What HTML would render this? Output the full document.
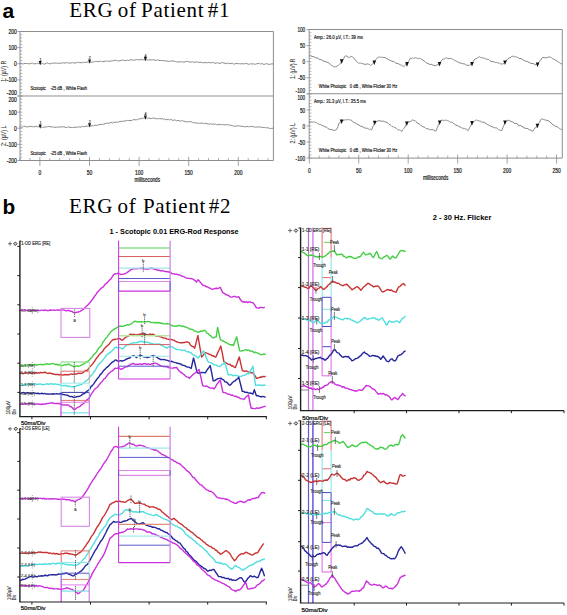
<!DOCTYPE html>
<html><head><meta charset="utf-8"><title>ERG figure</title>
<style>html,body{margin:0;padding:0;background:#fff;} svg{display:block;}</style></head>
<body><svg width="567" height="615" viewBox="0 0 567 615">
<rect x="0" y="0" width="567" height="615" fill="#fff"/>
<text x="2.6" y="17.5" font-family="Liberation Sans, sans-serif" font-size="21" font-weight="bold" text-anchor="start" fill="#000" >a</text>
<text x="69.2" y="16.9" font-family="Liberation Serif, serif" font-size="21" font-weight="normal" text-anchor="start" fill="#000" letter-spacing="0.7">ERG</text>
<text x="117.8" y="16.9" font-family="Liberation Serif, serif" font-size="21" font-weight="normal" text-anchor="start" fill="#000" letter-spacing="0.7">of</text>
<text x="141" y="16.9" font-family="Liberation Serif, serif" font-size="21" font-weight="normal" text-anchor="start" fill="#000" letter-spacing="0.7">Patient</text>
<text x="207.7" y="16.9" font-family="Liberation Serif, serif" font-size="21" font-weight="normal" text-anchor="start" fill="#000" letter-spacing="0.7">#1</text>
<line x1="20" y1="31.5" x2="273.4" y2="31.5" stroke="#8e8e8e" stroke-width="1" />
<line x1="273.4" y1="31.5" x2="273.4" y2="160.5" stroke="#8e8e8e" stroke-width="1" />
<line x1="20" y1="96" x2="273.4" y2="96" stroke="#8e8e8e" stroke-width="1.1" />
<line x1="20" y1="31.5" x2="20" y2="160.5" stroke="#8e8e8e" stroke-width="1" />
<line x1="20" y1="160.5" x2="273.4" y2="160.5" stroke="#8e8e8e" stroke-width="1" />
<line x1="20" y1="31.5" x2="22.2" y2="31.5" stroke="#8e8e8e" stroke-width="0.7" />
<line x1="20" y1="34.73" x2="22.2" y2="34.73" stroke="#8e8e8e" stroke-width="0.7" />
<line x1="20" y1="37.95" x2="22.2" y2="37.95" stroke="#8e8e8e" stroke-width="0.7" />
<line x1="20" y1="41.17" x2="22.2" y2="41.17" stroke="#8e8e8e" stroke-width="0.7" />
<line x1="20" y1="44.4" x2="22.2" y2="44.4" stroke="#8e8e8e" stroke-width="0.7" />
<line x1="20" y1="47.62" x2="22.2" y2="47.62" stroke="#8e8e8e" stroke-width="0.7" />
<line x1="20" y1="50.85" x2="22.2" y2="50.85" stroke="#8e8e8e" stroke-width="0.7" />
<line x1="20" y1="54.08" x2="22.2" y2="54.08" stroke="#8e8e8e" stroke-width="0.7" />
<line x1="20" y1="57.3" x2="22.2" y2="57.3" stroke="#8e8e8e" stroke-width="0.7" />
<line x1="20" y1="60.52" x2="22.2" y2="60.52" stroke="#8e8e8e" stroke-width="0.7" />
<line x1="20" y1="63.75" x2="22.2" y2="63.75" stroke="#8e8e8e" stroke-width="0.7" />
<line x1="20" y1="66.97" x2="22.2" y2="66.97" stroke="#8e8e8e" stroke-width="0.7" />
<line x1="20" y1="70.2" x2="22.2" y2="70.2" stroke="#8e8e8e" stroke-width="0.7" />
<line x1="20" y1="73.42" x2="22.2" y2="73.42" stroke="#8e8e8e" stroke-width="0.7" />
<line x1="20" y1="76.65" x2="22.2" y2="76.65" stroke="#8e8e8e" stroke-width="0.7" />
<line x1="20" y1="79.88" x2="22.2" y2="79.88" stroke="#8e8e8e" stroke-width="0.7" />
<line x1="20" y1="83.1" x2="22.2" y2="83.1" stroke="#8e8e8e" stroke-width="0.7" />
<line x1="20" y1="86.33" x2="22.2" y2="86.33" stroke="#8e8e8e" stroke-width="0.7" />
<line x1="20" y1="89.55" x2="22.2" y2="89.55" stroke="#8e8e8e" stroke-width="0.7" />
<line x1="20" y1="92.78" x2="22.2" y2="92.78" stroke="#8e8e8e" stroke-width="0.7" />
<line x1="20" y1="96" x2="22.2" y2="96" stroke="#8e8e8e" stroke-width="0.7" />
<line x1="17.4" y1="31.5" x2="20" y2="31.5" stroke="#8e8e8e" stroke-width="0.8" />
<line x1="17.4" y1="47.62" x2="20" y2="47.62" stroke="#8e8e8e" stroke-width="0.8" />
<line x1="17.4" y1="63.75" x2="20" y2="63.75" stroke="#8e8e8e" stroke-width="0.8" />
<line x1="17.4" y1="79.88" x2="20" y2="79.88" stroke="#8e8e8e" stroke-width="0.8" />
<line x1="17.4" y1="96" x2="20" y2="96" stroke="#8e8e8e" stroke-width="0.8" />
<line x1="20" y1="96" x2="22.2" y2="96" stroke="#8e8e8e" stroke-width="0.7" />
<line x1="20" y1="99.22" x2="22.2" y2="99.22" stroke="#8e8e8e" stroke-width="0.7" />
<line x1="20" y1="102.45" x2="22.2" y2="102.45" stroke="#8e8e8e" stroke-width="0.7" />
<line x1="20" y1="105.67" x2="22.2" y2="105.67" stroke="#8e8e8e" stroke-width="0.7" />
<line x1="20" y1="108.9" x2="22.2" y2="108.9" stroke="#8e8e8e" stroke-width="0.7" />
<line x1="20" y1="112.12" x2="22.2" y2="112.12" stroke="#8e8e8e" stroke-width="0.7" />
<line x1="20" y1="115.35" x2="22.2" y2="115.35" stroke="#8e8e8e" stroke-width="0.7" />
<line x1="20" y1="118.58" x2="22.2" y2="118.58" stroke="#8e8e8e" stroke-width="0.7" />
<line x1="20" y1="121.8" x2="22.2" y2="121.8" stroke="#8e8e8e" stroke-width="0.7" />
<line x1="20" y1="125.03" x2="22.2" y2="125.03" stroke="#8e8e8e" stroke-width="0.7" />
<line x1="20" y1="128.25" x2="22.2" y2="128.25" stroke="#8e8e8e" stroke-width="0.7" />
<line x1="20" y1="131.47" x2="22.2" y2="131.47" stroke="#8e8e8e" stroke-width="0.7" />
<line x1="20" y1="134.7" x2="22.2" y2="134.7" stroke="#8e8e8e" stroke-width="0.7" />
<line x1="20" y1="137.93" x2="22.2" y2="137.93" stroke="#8e8e8e" stroke-width="0.7" />
<line x1="20" y1="141.15" x2="22.2" y2="141.15" stroke="#8e8e8e" stroke-width="0.7" />
<line x1="20" y1="144.38" x2="22.2" y2="144.38" stroke="#8e8e8e" stroke-width="0.7" />
<line x1="20" y1="147.6" x2="22.2" y2="147.6" stroke="#8e8e8e" stroke-width="0.7" />
<line x1="20" y1="150.82" x2="22.2" y2="150.82" stroke="#8e8e8e" stroke-width="0.7" />
<line x1="20" y1="154.05" x2="22.2" y2="154.05" stroke="#8e8e8e" stroke-width="0.7" />
<line x1="20" y1="157.28" x2="22.2" y2="157.28" stroke="#8e8e8e" stroke-width="0.7" />
<line x1="20" y1="160.5" x2="22.2" y2="160.5" stroke="#8e8e8e" stroke-width="0.7" />
<line x1="17.4" y1="96" x2="20" y2="96" stroke="#8e8e8e" stroke-width="0.8" />
<line x1="17.4" y1="112.12" x2="20" y2="112.12" stroke="#8e8e8e" stroke-width="0.8" />
<line x1="17.4" y1="128.25" x2="20" y2="128.25" stroke="#8e8e8e" stroke-width="0.8" />
<line x1="17.4" y1="144.38" x2="20" y2="144.38" stroke="#8e8e8e" stroke-width="0.8" />
<line x1="17.4" y1="160.5" x2="20" y2="160.5" stroke="#8e8e8e" stroke-width="0.8" />
<text x="16.9" y="33.6" font-family="Liberation Sans, sans-serif" font-size="6.9" font-weight="normal" text-anchor="end" fill="#1a1a1a" stroke="#1a1a1a" stroke-width="0.22" textLength="8.4" lengthAdjust="spacingAndGlyphs" >200</text>
<text x="16.9" y="49.9" font-family="Liberation Sans, sans-serif" font-size="6.9" font-weight="normal" text-anchor="end" fill="#1a1a1a" stroke="#1a1a1a" stroke-width="0.22" textLength="8.4" lengthAdjust="spacingAndGlyphs" >100</text>
<text x="16.9" y="66.1" font-family="Liberation Sans, sans-serif" font-size="6.9" font-weight="normal" text-anchor="end" fill="#1a1a1a" stroke="#1a1a1a" stroke-width="0.22" textLength="2.8" lengthAdjust="spacingAndGlyphs" >0</text>
<text x="16.9" y="82.3" font-family="Liberation Sans, sans-serif" font-size="6.9" font-weight="normal" text-anchor="end" fill="#1a1a1a" stroke="#1a1a1a" stroke-width="0.22" textLength="10.2" lengthAdjust="spacingAndGlyphs" >-100</text>
<text x="16.9" y="94.8" font-family="Liberation Sans, sans-serif" font-size="6.9" font-weight="normal" text-anchor="end" fill="#1a1a1a" stroke="#1a1a1a" stroke-width="0.22" textLength="10.2" lengthAdjust="spacingAndGlyphs" >-200</text>
<text x="16.9" y="102.4" font-family="Liberation Sans, sans-serif" font-size="6.9" font-weight="normal" text-anchor="end" fill="#1a1a1a" stroke="#1a1a1a" stroke-width="0.22" textLength="8.4" lengthAdjust="spacingAndGlyphs" >200</text>
<text x="16.9" y="114.6" font-family="Liberation Sans, sans-serif" font-size="6.9" font-weight="normal" text-anchor="end" fill="#1a1a1a" stroke="#1a1a1a" stroke-width="0.22" textLength="8.4" lengthAdjust="spacingAndGlyphs" >100</text>
<text x="16.9" y="130.7" font-family="Liberation Sans, sans-serif" font-size="6.9" font-weight="normal" text-anchor="end" fill="#1a1a1a" stroke="#1a1a1a" stroke-width="0.22" textLength="2.8" lengthAdjust="spacingAndGlyphs" >0</text>
<text x="16.9" y="146.7" font-family="Liberation Sans, sans-serif" font-size="6.9" font-weight="normal" text-anchor="end" fill="#1a1a1a" stroke="#1a1a1a" stroke-width="0.22" textLength="10.2" lengthAdjust="spacingAndGlyphs" >-100</text>
<text x="16.9" y="162.6" font-family="Liberation Sans, sans-serif" font-size="6.9" font-weight="normal" text-anchor="end" fill="#1a1a1a" stroke="#1a1a1a" stroke-width="0.22" textLength="10.2" lengthAdjust="spacingAndGlyphs" >-200</text>
<line x1="20.06" y1="157.9" x2="20.06" y2="160.5" stroke="#8e8e8e" stroke-width="0.7" />
<line x1="29.98" y1="157.9" x2="29.98" y2="160.5" stroke="#8e8e8e" stroke-width="0.7" />
<line x1="39.9" y1="156.9" x2="39.9" y2="166" stroke="#8e8e8e" stroke-width="0.8" />
<line x1="49.82" y1="157.9" x2="49.82" y2="160.5" stroke="#8e8e8e" stroke-width="0.7" />
<line x1="59.74" y1="157.9" x2="59.74" y2="160.5" stroke="#8e8e8e" stroke-width="0.7" />
<line x1="69.66" y1="157.9" x2="69.66" y2="160.5" stroke="#8e8e8e" stroke-width="0.7" />
<line x1="79.58" y1="157.9" x2="79.58" y2="160.5" stroke="#8e8e8e" stroke-width="0.7" />
<line x1="89.5" y1="156.9" x2="89.5" y2="166" stroke="#8e8e8e" stroke-width="0.8" />
<line x1="99.42" y1="157.9" x2="99.42" y2="160.5" stroke="#8e8e8e" stroke-width="0.7" />
<line x1="109.34" y1="157.9" x2="109.34" y2="160.5" stroke="#8e8e8e" stroke-width="0.7" />
<line x1="119.26" y1="157.9" x2="119.26" y2="160.5" stroke="#8e8e8e" stroke-width="0.7" />
<line x1="129.18" y1="157.9" x2="129.18" y2="160.5" stroke="#8e8e8e" stroke-width="0.7" />
<line x1="139.1" y1="156.9" x2="139.1" y2="166" stroke="#8e8e8e" stroke-width="0.8" />
<line x1="149.02" y1="157.9" x2="149.02" y2="160.5" stroke="#8e8e8e" stroke-width="0.7" />
<line x1="158.94" y1="157.9" x2="158.94" y2="160.5" stroke="#8e8e8e" stroke-width="0.7" />
<line x1="168.86" y1="157.9" x2="168.86" y2="160.5" stroke="#8e8e8e" stroke-width="0.7" />
<line x1="178.78" y1="157.9" x2="178.78" y2="160.5" stroke="#8e8e8e" stroke-width="0.7" />
<line x1="188.7" y1="156.9" x2="188.7" y2="166" stroke="#8e8e8e" stroke-width="0.8" />
<line x1="198.62" y1="157.9" x2="198.62" y2="160.5" stroke="#8e8e8e" stroke-width="0.7" />
<line x1="208.54" y1="157.9" x2="208.54" y2="160.5" stroke="#8e8e8e" stroke-width="0.7" />
<line x1="218.46" y1="157.9" x2="218.46" y2="160.5" stroke="#8e8e8e" stroke-width="0.7" />
<line x1="228.38" y1="157.9" x2="228.38" y2="160.5" stroke="#8e8e8e" stroke-width="0.7" />
<line x1="238.3" y1="156.9" x2="238.3" y2="166" stroke="#8e8e8e" stroke-width="0.8" />
<line x1="248.22" y1="157.9" x2="248.22" y2="160.5" stroke="#8e8e8e" stroke-width="0.7" />
<line x1="258.14" y1="157.9" x2="258.14" y2="160.5" stroke="#8e8e8e" stroke-width="0.7" />
<line x1="268.06" y1="157.9" x2="268.06" y2="160.5" stroke="#8e8e8e" stroke-width="0.7" />
<text x="39.9" y="174.5" font-family="Liberation Sans, sans-serif" font-size="6.8" font-weight="normal" text-anchor="middle" fill="#1a1a1a" stroke="#1a1a1a" stroke-width="0.22" textLength="2.75" lengthAdjust="spacingAndGlyphs" >0</text>
<text x="89.5" y="174.5" font-family="Liberation Sans, sans-serif" font-size="6.8" font-weight="normal" text-anchor="middle" fill="#1a1a1a" stroke="#1a1a1a" stroke-width="0.22" textLength="5.5" lengthAdjust="spacingAndGlyphs" >50</text>
<text x="139.1" y="174.5" font-family="Liberation Sans, sans-serif" font-size="6.8" font-weight="normal" text-anchor="middle" fill="#1a1a1a" stroke="#1a1a1a" stroke-width="0.22" textLength="8.25" lengthAdjust="spacingAndGlyphs" >100</text>
<text x="188.7" y="174.5" font-family="Liberation Sans, sans-serif" font-size="6.8" font-weight="normal" text-anchor="middle" fill="#1a1a1a" stroke="#1a1a1a" stroke-width="0.22" textLength="8.25" lengthAdjust="spacingAndGlyphs" >150</text>
<text x="238.3" y="174.5" font-family="Liberation Sans, sans-serif" font-size="6.8" font-weight="normal" text-anchor="middle" fill="#1a1a1a" stroke="#1a1a1a" stroke-width="0.22" textLength="8.25" lengthAdjust="spacingAndGlyphs" >200</text>
<text x="147.3" y="181.7" font-family="Liberation Sans, sans-serif" font-size="6.3" font-weight="normal" text-anchor="middle" fill="#1a1a1a" stroke="#1a1a1a" stroke-width="0.22" textLength="25.4" lengthAdjust="spacingAndGlyphs" >milliseconds</text>
<text transform="translate(6.2,81.8) rotate(-90)" font-family="Liberation Sans, sans-serif" font-size="6.6" text-anchor="start" fill="#3a3a3a" stroke="#3a3a3a" stroke-width="0.12" textLength="21" lengthAdjust="spacingAndGlyphs">1: (µV) R</text>
<text transform="translate(6.2,146) rotate(-90)" font-family="Liberation Sans, sans-serif" font-size="6.6" text-anchor="start" fill="#3a3a3a" stroke="#3a3a3a" stroke-width="0.12" textLength="20.5" lengthAdjust="spacingAndGlyphs">2: (µV) L</text>
<text x="30.4" y="90" font-family="Liberation Sans, sans-serif" font-size="6.1" font-weight="normal" text-anchor="start" fill="#1a1a1a" stroke="#1a1a1a" stroke-width="0.21" textLength="56.6" lengthAdjust="spacingAndGlyphs" >Scotopic &#160;&#160; -25 dB , White Flash</text>
<text x="30.4" y="154.9" font-family="Liberation Sans, sans-serif" font-size="6.1" font-weight="normal" text-anchor="start" fill="#1a1a1a" stroke="#1a1a1a" stroke-width="0.21" textLength="56.6" lengthAdjust="spacingAndGlyphs" >Scotopic &#160;&#160; -25 dB , White Flash</text>
<polyline points="20,63.5 21.25,63.15 22.5,63.87 23.75,63.8 25,63.31 26.25,63.56 27.5,63.52 28.75,63.74 30,63.89 31.25,63.21 32.5,63.15 33.75,63.97 35,63.58 36.25,63.92 37.5,63.18 38.75,63.63 40,63.7 41.25,63.9 42.5,63.38 43.75,64.07 45,64 46.25,63.11 47.5,63.08 48.75,63.57 50,63.94 51.25,63.36 52.5,63.17 53.75,63.35 55,62.93 56.25,63.1 57.5,63.29 58.75,63.32 60,63.3 61.25,62.98 62.5,62.93 63.75,62.87 65,63.06 66.25,62.84 67.5,62.52 68.75,63.29 70,62.96 71.25,62.99 72.5,62.49 73.75,63.24 75,62.7 76.22,63 77.43,62.2 78.65,62.36 79.87,62.69 81.08,62.62 82.3,62.79 83.52,62.21 84.73,62.56 85.95,62.35 87.17,61.92 88.38,62.15 89.6,62 90.8,62.32 92,62.23 93.2,61.83 94.4,61.85 95.6,61.24 96.8,61.39 98,61.89 99.2,61.44 100.4,61.14 101.6,61.46 102.8,61.56 104,61.47 105.2,61.11 106.4,61.12 107.6,61.13 108.8,61.34 110,61 111.25,60.96 112.5,60.77 113.75,60.8 115,60.28 116.25,60.23 117.5,60.83 118.75,61.05 120,60.59 121.25,60.33 122.5,60.05 123.75,60.31 125,60.73 126.25,60.46 127.5,60.16 128.75,60.42 130,60 131.25,59.69 132.5,59.93 133.75,60.33 135,59.91 136.25,59.75 137.5,59.52 138.75,59.76 140,60.12 141.25,59.13 142.5,59.87 143.75,59.86 145,59.5 146.25,59.96 147.5,59.89 148.75,60.03 150,59.82 151.25,59.94 152.5,59.88 153.75,59.58 155,60.47 156.25,60.24 157.5,59.95 158.75,60.33 160,60.4 161.4,60.52 162.8,60.54 164.2,60.67 165.6,61 167,61.1 168.2,61.28 169.4,61.32 170.6,61.22 171.8,60.84 173,61.1 174.2,61.1 175.4,61.56 176.6,61.89 177.8,61.88 179,61.93 180.2,62 181.4,61.5 182.6,62.14 183.8,62.02 185,61.9 186.25,61.53 187.5,61.52 188.75,61.56 190,62.36 191.25,61.9 192.5,61.81 193.75,62.37 195,62.14 196.25,61.92 197.5,62.06 198.75,62.48 200,62.17 201.25,62.32 202.5,62.81 203.75,62.6 205,62.7 206.25,62.56 207.5,62.75 208.75,62.34 210,62.74 211.25,62.81 212.5,62.61 213.75,62.57 215,63.4 216.25,63.05 217.5,62.78 218.75,63.22 220,63.47 221.25,62.71 222.5,62.74 223.75,62.91 225,63.3 226.21,63.55 227.43,63.03 228.64,63.61 229.86,63.62 231.07,63.52 232.29,63.23 233.5,64.03 234.71,63.88 235.93,63.64 237.14,63.38 238.36,63.84 239.57,63.62 240.79,63.84 242,63.8 243.24,63.63 244.48,63.94 245.72,63.37 246.96,63.61 248.2,64.29 249.44,64.2 250.68,63.63 251.92,64.19 253.16,63.65 254.4,64.28 255.64,64.09 256.88,63.76 258.12,63.6 259.36,63.36 260.6,64.24 261.84,63.4 263.08,64.19 264.32,64.33 265.56,63.95 266.8,63.55 268.04,64.25 269.28,64.36 270.52,64.1 271.76,63.9 273,63.9" fill="none" stroke="#858585" stroke-width="0.95" stroke-linejoin="round" stroke-linecap="round" />
<polyline points="20,126.8 21.25,127.22 22.5,127.17 23.75,126.24 25,126.23 26.25,126.95 27.5,126.81 28.75,126.71 30,126.5 31.25,126.35 32.5,126.68 33.75,126.72 35,126.73 36.25,126.35 37.5,126.66 38.75,126.66 40,126.8 41.25,127.05 42.5,127.34 43.75,127.32 45,126.94 46.25,126.87 47.5,126.72 48.75,126.51 50,126.53 51.25,126.99 52.5,126.87 53.75,126.96 55,127.49 56.25,127.15 57.5,127.21 58.75,126.91 60,127.2 61.25,126.72 62.5,127.01 63.75,126.81 65,127.18 66.25,127.66 67.5,127.32 68.75,126.82 70,127.53 71.25,127.42 72.5,127.35 73.75,127.51 75,127.1 76.22,127.27 77.43,127.21 78.65,126.68 79.87,127.21 81.08,127.1 82.3,126.21 83.52,126.71 84.73,126.58 85.95,126.24 87.17,126.21 88.38,126.08 89.6,126 90.9,126.24 92.2,125.63 93.5,125.77 94.8,125.1 96.1,125.45 97.4,125.27 98.7,124.65 100,124.5 101.25,124.37 102.5,124.52 103.75,124.12 105,123.69 106.25,123.22 107.5,123.12 108.75,123.3 110,122.9 111.25,122.39 112.5,122.96 113.75,122.14 115,122.61 116.25,121.83 117.5,122.31 118.75,121.88 120,121.5 121.25,121.37 122.5,121.24 123.75,121.24 125,121.04 126.25,120.62 127.5,120.38 128.75,120.55 130,120.4 131.25,120.64 132.5,120.14 133.75,119.4 135,119.95 136.25,119.67 137.5,119.66 138.75,118.75 140,119.11 141.25,118.23 142.5,118.64 143.75,118.06 145,118.1 146.25,117.86 147.5,118.55 148.75,117.82 150,118.27 151.25,118.64 152.5,118.07 153.75,118.07 155,118.4 156.2,118.89 157.4,118.54 158.6,118.95 159.8,118.37 161,118.81 162.2,118.73 163.4,119.34 164.6,118.86 165.8,119.84 167,119.5 168.2,119.16 169.4,120 170.6,119.42 171.8,119.79 173,120.48 174.2,119.96 175.4,120.12 176.6,120.76 177.8,120.59 179,120.38 180.2,121.46 181.4,120.75 182.6,120.77 183.8,121.21 185,121.5 186.22,121.74 187.44,122 188.67,121.5 189.89,121.85 191.11,121.67 192.33,122.22 193.56,122.66 194.78,122.76 196,123.05 197.22,123.03 198.44,123.27 199.67,123.24 200.89,123.13 202.11,123.01 203.33,123.58 204.56,123.36 205.78,123.27 207,123.8 208.2,123.83 209.4,124.33 210.6,123.67 211.8,124.2 213,124.09 214.2,124.29 215.4,124 216.6,124.9 217.8,124.28 219,124.71 220.2,124.6 221.4,124.28 222.6,124.9 223.8,124.56 225,125 226.21,124.65 227.43,124.72 228.64,124.94 229.86,124.97 231.07,125.6 232.29,125.57 233.5,126.13 234.71,126.18 235.93,126.33 237.14,125.66 238.36,125.97 239.57,125.87 240.79,126.3 242,126.3 243.24,126.5 244.48,126.75 245.72,126.74 246.96,126.36 248.2,126.6 249.44,126.78 250.68,126.34 251.92,126.44 253.16,126.89 254.4,126.67 255.64,127.36 256.88,126.95 258.12,126.89 259.36,127.05 260.6,127.17 261.84,127.23 263.08,127.61 264.32,127.63 265.56,127.55 266.8,127.96 268.04,127.61 269.28,128.38 270.52,128.51 271.76,128.35 273,128.2" fill="none" stroke="#858585" stroke-width="0.95" stroke-linejoin="round" stroke-linecap="round" />
<path d="M38.7,61.09 L41.7,61.09 L40.2,65.29 Z" fill="#111"/>
<text x="40.4" y="60.59" font-family="Liberation Sans, sans-serif" font-size="3.6" font-weight="normal" text-anchor="middle" fill="#222" stroke="#222" stroke-width="0.13" >1</text>
<path d="M88.1,59.59 L91.1,59.59 L89.6,63.79 Z" fill="#111"/>
<text x="89.8" y="59.09" font-family="Liberation Sans, sans-serif" font-size="3.6" font-weight="normal" text-anchor="middle" fill="#222" stroke="#222" stroke-width="0.13" >2</text>
<path d="M143.9,57.09 L146.9,57.09 L145.4,61.29 Z" fill="#111"/>
<text x="145.6" y="56.59" font-family="Liberation Sans, sans-serif" font-size="3.6" font-weight="normal" text-anchor="middle" fill="#222" stroke="#222" stroke-width="0.13" >4</text>
<path d="M38.7,124.49 L41.7,124.49 L40.2,128.69 Z" fill="#111"/>
<text x="40.4" y="123.99" font-family="Liberation Sans, sans-serif" font-size="3.6" font-weight="normal" text-anchor="middle" fill="#222" stroke="#222" stroke-width="0.13" >1</text>
<path d="M88.1,123.29 L91.1,123.29 L89.6,127.49 Z" fill="#111"/>
<text x="89.8" y="122.79" font-family="Liberation Sans, sans-serif" font-size="3.6" font-weight="normal" text-anchor="middle" fill="#222" stroke="#222" stroke-width="0.13" >2</text>
<path d="M143.9,115.59 L146.9,115.59 L145.4,119.79 Z" fill="#111"/>
<text x="145.6" y="115.09" font-family="Liberation Sans, sans-serif" font-size="3.6" font-weight="normal" text-anchor="middle" fill="#222" stroke="#222" stroke-width="0.13" >4</text>
<line x1="309.2" y1="29.5" x2="562.3" y2="29.5" stroke="#8e8e8e" stroke-width="1" />
<line x1="562.3" y1="29.5" x2="562.3" y2="158.1" stroke="#8e8e8e" stroke-width="1" />
<line x1="309.2" y1="93.8" x2="562.3" y2="93.8" stroke="#8e8e8e" stroke-width="1.1" />
<line x1="309.2" y1="29.5" x2="309.2" y2="158.1" stroke="#8e8e8e" stroke-width="1" />
<line x1="309.2" y1="158.1" x2="562.3" y2="158.1" stroke="#8e8e8e" stroke-width="1" />
<line x1="309.2" y1="29.5" x2="311.4" y2="29.5" stroke="#8e8e8e" stroke-width="0.7" />
<line x1="309.2" y1="32.72" x2="311.4" y2="32.72" stroke="#8e8e8e" stroke-width="0.7" />
<line x1="309.2" y1="35.93" x2="311.4" y2="35.93" stroke="#8e8e8e" stroke-width="0.7" />
<line x1="309.2" y1="39.14" x2="311.4" y2="39.14" stroke="#8e8e8e" stroke-width="0.7" />
<line x1="309.2" y1="42.36" x2="311.4" y2="42.36" stroke="#8e8e8e" stroke-width="0.7" />
<line x1="309.2" y1="45.58" x2="311.4" y2="45.58" stroke="#8e8e8e" stroke-width="0.7" />
<line x1="309.2" y1="48.79" x2="311.4" y2="48.79" stroke="#8e8e8e" stroke-width="0.7" />
<line x1="309.2" y1="52" x2="311.4" y2="52" stroke="#8e8e8e" stroke-width="0.7" />
<line x1="309.2" y1="55.22" x2="311.4" y2="55.22" stroke="#8e8e8e" stroke-width="0.7" />
<line x1="309.2" y1="58.43" x2="311.4" y2="58.43" stroke="#8e8e8e" stroke-width="0.7" />
<line x1="309.2" y1="61.65" x2="311.4" y2="61.65" stroke="#8e8e8e" stroke-width="0.7" />
<line x1="309.2" y1="64.86" x2="311.4" y2="64.86" stroke="#8e8e8e" stroke-width="0.7" />
<line x1="309.2" y1="68.08" x2="311.4" y2="68.08" stroke="#8e8e8e" stroke-width="0.7" />
<line x1="309.2" y1="71.3" x2="311.4" y2="71.3" stroke="#8e8e8e" stroke-width="0.7" />
<line x1="309.2" y1="74.51" x2="311.4" y2="74.51" stroke="#8e8e8e" stroke-width="0.7" />
<line x1="309.2" y1="77.72" x2="311.4" y2="77.72" stroke="#8e8e8e" stroke-width="0.7" />
<line x1="309.2" y1="80.94" x2="311.4" y2="80.94" stroke="#8e8e8e" stroke-width="0.7" />
<line x1="309.2" y1="84.16" x2="311.4" y2="84.16" stroke="#8e8e8e" stroke-width="0.7" />
<line x1="309.2" y1="87.37" x2="311.4" y2="87.37" stroke="#8e8e8e" stroke-width="0.7" />
<line x1="309.2" y1="90.59" x2="311.4" y2="90.59" stroke="#8e8e8e" stroke-width="0.7" />
<line x1="309.2" y1="93.8" x2="311.4" y2="93.8" stroke="#8e8e8e" stroke-width="0.7" />
<line x1="306.6" y1="29.5" x2="309.2" y2="29.5" stroke="#8e8e8e" stroke-width="0.8" />
<line x1="306.6" y1="45.58" x2="309.2" y2="45.58" stroke="#8e8e8e" stroke-width="0.8" />
<line x1="306.6" y1="61.65" x2="309.2" y2="61.65" stroke="#8e8e8e" stroke-width="0.8" />
<line x1="306.6" y1="77.72" x2="309.2" y2="77.72" stroke="#8e8e8e" stroke-width="0.8" />
<line x1="306.6" y1="93.8" x2="309.2" y2="93.8" stroke="#8e8e8e" stroke-width="0.8" />
<line x1="309.2" y1="93.8" x2="311.4" y2="93.8" stroke="#8e8e8e" stroke-width="0.7" />
<line x1="309.2" y1="97.02" x2="311.4" y2="97.02" stroke="#8e8e8e" stroke-width="0.7" />
<line x1="309.2" y1="100.23" x2="311.4" y2="100.23" stroke="#8e8e8e" stroke-width="0.7" />
<line x1="309.2" y1="103.44" x2="311.4" y2="103.44" stroke="#8e8e8e" stroke-width="0.7" />
<line x1="309.2" y1="106.66" x2="311.4" y2="106.66" stroke="#8e8e8e" stroke-width="0.7" />
<line x1="309.2" y1="109.88" x2="311.4" y2="109.88" stroke="#8e8e8e" stroke-width="0.7" />
<line x1="309.2" y1="113.09" x2="311.4" y2="113.09" stroke="#8e8e8e" stroke-width="0.7" />
<line x1="309.2" y1="116.3" x2="311.4" y2="116.3" stroke="#8e8e8e" stroke-width="0.7" />
<line x1="309.2" y1="119.52" x2="311.4" y2="119.52" stroke="#8e8e8e" stroke-width="0.7" />
<line x1="309.2" y1="122.73" x2="311.4" y2="122.73" stroke="#8e8e8e" stroke-width="0.7" />
<line x1="309.2" y1="125.95" x2="311.4" y2="125.95" stroke="#8e8e8e" stroke-width="0.7" />
<line x1="309.2" y1="129.16" x2="311.4" y2="129.16" stroke="#8e8e8e" stroke-width="0.7" />
<line x1="309.2" y1="132.38" x2="311.4" y2="132.38" stroke="#8e8e8e" stroke-width="0.7" />
<line x1="309.2" y1="135.59" x2="311.4" y2="135.59" stroke="#8e8e8e" stroke-width="0.7" />
<line x1="309.2" y1="138.81" x2="311.4" y2="138.81" stroke="#8e8e8e" stroke-width="0.7" />
<line x1="309.2" y1="142.03" x2="311.4" y2="142.03" stroke="#8e8e8e" stroke-width="0.7" />
<line x1="309.2" y1="145.24" x2="311.4" y2="145.24" stroke="#8e8e8e" stroke-width="0.7" />
<line x1="309.2" y1="148.45" x2="311.4" y2="148.45" stroke="#8e8e8e" stroke-width="0.7" />
<line x1="309.2" y1="151.67" x2="311.4" y2="151.67" stroke="#8e8e8e" stroke-width="0.7" />
<line x1="309.2" y1="154.88" x2="311.4" y2="154.88" stroke="#8e8e8e" stroke-width="0.7" />
<line x1="309.2" y1="158.1" x2="311.4" y2="158.1" stroke="#8e8e8e" stroke-width="0.7" />
<line x1="306.6" y1="93.8" x2="309.2" y2="93.8" stroke="#8e8e8e" stroke-width="0.8" />
<line x1="306.6" y1="109.88" x2="309.2" y2="109.88" stroke="#8e8e8e" stroke-width="0.8" />
<line x1="306.6" y1="125.95" x2="309.2" y2="125.95" stroke="#8e8e8e" stroke-width="0.8" />
<line x1="306.6" y1="142.02" x2="309.2" y2="142.02" stroke="#8e8e8e" stroke-width="0.8" />
<line x1="306.6" y1="158.1" x2="309.2" y2="158.1" stroke="#8e8e8e" stroke-width="0.8" />
<text x="305.2" y="31.9" font-family="Liberation Sans, sans-serif" font-size="7.0" font-weight="normal" text-anchor="end" fill="#1a1a1a" stroke="#1a1a1a" stroke-width="0.22" textLength="7.8" lengthAdjust="spacingAndGlyphs" >100</text>
<text x="305.2" y="48.1" font-family="Liberation Sans, sans-serif" font-size="7.0" font-weight="normal" text-anchor="end" fill="#1a1a1a" stroke="#1a1a1a" stroke-width="0.22" textLength="5.2" lengthAdjust="spacingAndGlyphs" >50</text>
<text x="305.2" y="64.1" font-family="Liberation Sans, sans-serif" font-size="7.0" font-weight="normal" text-anchor="end" fill="#1a1a1a" stroke="#1a1a1a" stroke-width="0.22" textLength="2.6" lengthAdjust="spacingAndGlyphs" >0</text>
<text x="305.2" y="80.3" font-family="Liberation Sans, sans-serif" font-size="7.0" font-weight="normal" text-anchor="end" fill="#1a1a1a" stroke="#1a1a1a" stroke-width="0.22" textLength="7" lengthAdjust="spacingAndGlyphs" >-50</text>
<text x="305.2" y="92.9" font-family="Liberation Sans, sans-serif" font-size="7.0" font-weight="normal" text-anchor="end" fill="#1a1a1a" stroke="#1a1a1a" stroke-width="0.22" textLength="9.6" lengthAdjust="spacingAndGlyphs" >-100</text>
<text x="305.2" y="99.9" font-family="Liberation Sans, sans-serif" font-size="7.0" font-weight="normal" text-anchor="end" fill="#1a1a1a" stroke="#1a1a1a" stroke-width="0.22" textLength="7.8" lengthAdjust="spacingAndGlyphs" >100</text>
<text x="305.2" y="112.8" font-family="Liberation Sans, sans-serif" font-size="7.0" font-weight="normal" text-anchor="end" fill="#1a1a1a" stroke="#1a1a1a" stroke-width="0.22" textLength="5.2" lengthAdjust="spacingAndGlyphs" >50</text>
<text x="305.2" y="128.6" font-family="Liberation Sans, sans-serif" font-size="7.0" font-weight="normal" text-anchor="end" fill="#1a1a1a" stroke="#1a1a1a" stroke-width="0.22" textLength="2.6" lengthAdjust="spacingAndGlyphs" >0</text>
<text x="305.2" y="144.9" font-family="Liberation Sans, sans-serif" font-size="7.0" font-weight="normal" text-anchor="end" fill="#1a1a1a" stroke="#1a1a1a" stroke-width="0.22" textLength="7" lengthAdjust="spacingAndGlyphs" >-50</text>
<text x="305.2" y="160.6" font-family="Liberation Sans, sans-serif" font-size="7.0" font-weight="normal" text-anchor="end" fill="#1a1a1a" stroke="#1a1a1a" stroke-width="0.22" textLength="9.6" lengthAdjust="spacingAndGlyphs" >-100</text>
<line x1="309.3" y1="154.5" x2="309.3" y2="163.6" stroke="#8e8e8e" stroke-width="0.8" />
<line x1="319.19" y1="155.5" x2="319.19" y2="158.1" stroke="#8e8e8e" stroke-width="0.7" />
<line x1="329.08" y1="155.5" x2="329.08" y2="158.1" stroke="#8e8e8e" stroke-width="0.7" />
<line x1="338.97" y1="155.5" x2="338.97" y2="158.1" stroke="#8e8e8e" stroke-width="0.7" />
<line x1="348.86" y1="155.5" x2="348.86" y2="158.1" stroke="#8e8e8e" stroke-width="0.7" />
<line x1="358.75" y1="154.5" x2="358.75" y2="163.6" stroke="#8e8e8e" stroke-width="0.8" />
<line x1="368.64" y1="155.5" x2="368.64" y2="158.1" stroke="#8e8e8e" stroke-width="0.7" />
<line x1="378.53" y1="155.5" x2="378.53" y2="158.1" stroke="#8e8e8e" stroke-width="0.7" />
<line x1="388.42" y1="155.5" x2="388.42" y2="158.1" stroke="#8e8e8e" stroke-width="0.7" />
<line x1="398.31" y1="155.5" x2="398.31" y2="158.1" stroke="#8e8e8e" stroke-width="0.7" />
<line x1="408.2" y1="154.5" x2="408.2" y2="163.6" stroke="#8e8e8e" stroke-width="0.8" />
<line x1="418.09" y1="155.5" x2="418.09" y2="158.1" stroke="#8e8e8e" stroke-width="0.7" />
<line x1="427.98" y1="155.5" x2="427.98" y2="158.1" stroke="#8e8e8e" stroke-width="0.7" />
<line x1="437.87" y1="155.5" x2="437.87" y2="158.1" stroke="#8e8e8e" stroke-width="0.7" />
<line x1="447.76" y1="155.5" x2="447.76" y2="158.1" stroke="#8e8e8e" stroke-width="0.7" />
<line x1="457.65" y1="154.5" x2="457.65" y2="163.6" stroke="#8e8e8e" stroke-width="0.8" />
<line x1="467.54" y1="155.5" x2="467.54" y2="158.1" stroke="#8e8e8e" stroke-width="0.7" />
<line x1="477.43" y1="155.5" x2="477.43" y2="158.1" stroke="#8e8e8e" stroke-width="0.7" />
<line x1="487.32" y1="155.5" x2="487.32" y2="158.1" stroke="#8e8e8e" stroke-width="0.7" />
<line x1="497.21" y1="155.5" x2="497.21" y2="158.1" stroke="#8e8e8e" stroke-width="0.7" />
<line x1="507.1" y1="154.5" x2="507.1" y2="163.6" stroke="#8e8e8e" stroke-width="0.8" />
<line x1="516.99" y1="155.5" x2="516.99" y2="158.1" stroke="#8e8e8e" stroke-width="0.7" />
<line x1="526.88" y1="155.5" x2="526.88" y2="158.1" stroke="#8e8e8e" stroke-width="0.7" />
<line x1="536.77" y1="155.5" x2="536.77" y2="158.1" stroke="#8e8e8e" stroke-width="0.7" />
<line x1="546.66" y1="155.5" x2="546.66" y2="158.1" stroke="#8e8e8e" stroke-width="0.7" />
<line x1="556.55" y1="154.5" x2="556.55" y2="163.6" stroke="#8e8e8e" stroke-width="0.8" />
<text x="309.3" y="172.5" font-family="Liberation Sans, sans-serif" font-size="6.8" font-weight="normal" text-anchor="middle" fill="#1a1a1a" stroke="#1a1a1a" stroke-width="0.22" textLength="2.75" lengthAdjust="spacingAndGlyphs" >0</text>
<text x="358.75" y="172.5" font-family="Liberation Sans, sans-serif" font-size="6.8" font-weight="normal" text-anchor="middle" fill="#1a1a1a" stroke="#1a1a1a" stroke-width="0.22" textLength="5.5" lengthAdjust="spacingAndGlyphs" >50</text>
<text x="408.2" y="172.5" font-family="Liberation Sans, sans-serif" font-size="6.8" font-weight="normal" text-anchor="middle" fill="#1a1a1a" stroke="#1a1a1a" stroke-width="0.22" textLength="8.25" lengthAdjust="spacingAndGlyphs" >100</text>
<text x="457.65" y="172.5" font-family="Liberation Sans, sans-serif" font-size="6.8" font-weight="normal" text-anchor="middle" fill="#1a1a1a" stroke="#1a1a1a" stroke-width="0.22" textLength="8.25" lengthAdjust="spacingAndGlyphs" >150</text>
<text x="507.1" y="172.5" font-family="Liberation Sans, sans-serif" font-size="6.8" font-weight="normal" text-anchor="middle" fill="#1a1a1a" stroke="#1a1a1a" stroke-width="0.22" textLength="8.25" lengthAdjust="spacingAndGlyphs" >200</text>
<text x="556.55" y="172.5" font-family="Liberation Sans, sans-serif" font-size="6.8" font-weight="normal" text-anchor="middle" fill="#1a1a1a" stroke="#1a1a1a" stroke-width="0.22" textLength="8.25" lengthAdjust="spacingAndGlyphs" >250</text>
<text x="435.6" y="180.1" font-family="Liberation Sans, sans-serif" font-size="6.3" font-weight="normal" text-anchor="middle" fill="#1a1a1a" stroke="#1a1a1a" stroke-width="0.22" textLength="25.4" lengthAdjust="spacingAndGlyphs" >milliseconds</text>
<text transform="translate(295.3,79.1) rotate(-90)" font-family="Liberation Sans, sans-serif" font-size="6.5" text-anchor="start" fill="#3a3a3a" stroke="#3a3a3a" stroke-width="0.12" textLength="20.6" lengthAdjust="spacingAndGlyphs">1: (µV) R</text>
<text transform="translate(295.3,143.4) rotate(-90)" font-family="Liberation Sans, sans-serif" font-size="6.5" text-anchor="start" fill="#3a3a3a" stroke="#3a3a3a" stroke-width="0.12" textLength="20.2" lengthAdjust="spacingAndGlyphs">2: (µV) L</text>
<text x="313.9" y="39.2" font-family="Liberation Sans, sans-serif" font-size="6.1" font-weight="normal" text-anchor="start" fill="#1a1a1a" stroke="#1a1a1a" stroke-width="0.21" textLength="49" lengthAdjust="spacingAndGlyphs" >Amp.: 26.0 µV, I.T.: 39 ms</text>
<text x="313.9" y="103.3" font-family="Liberation Sans, sans-serif" font-size="6.1" font-weight="normal" text-anchor="start" fill="#1a1a1a" stroke="#1a1a1a" stroke-width="0.21" textLength="52" lengthAdjust="spacingAndGlyphs" >Amp.: 31.3 µV, I.T.: 35.5 ms</text>
<text x="318.8" y="87.7" font-family="Liberation Sans, sans-serif" font-size="6.1" font-weight="normal" text-anchor="start" fill="#1a1a1a" stroke="#1a1a1a" stroke-width="0.21" textLength="78.5" lengthAdjust="spacingAndGlyphs" >White Photopic &#160; 0 dB , White Flicker 30 Hz</text>
<text x="318.8" y="152.4" font-family="Liberation Sans, sans-serif" font-size="6.1" font-weight="normal" text-anchor="start" fill="#1a1a1a" stroke="#1a1a1a" stroke-width="0.21" textLength="78.5" lengthAdjust="spacingAndGlyphs" >White Photopic &#160; 0 dB , White Flicker 30 Hz</text>
<polyline points="309.5,56 310.67,55.88 311.83,56.38 313,56.5 314,56.79 315,57.47 316,57.92 317,57.74 318,58.11 319,59.44 320,59.5 321,59.61 322,59.96 323,61.17 324,60.97 325,61.75 326,61.72 327,62.28 328,62.5 329.04,62.9 330.08,64.21 331.12,65.24 332.16,65.65 333.2,66.4 334.23,66.83 335.27,66.92 336.3,66.9 337.37,65.55 338.43,65.45 339.5,64.3 340.73,62.9 341.97,61.08 343.2,59.8 344.8,56.3 345.9,55.78 347,56.3 348.3,57.25 349.6,57.4 351.2,56.3 352.5,57.07 353.8,57.9 355.03,59.64 356.27,61.32 357.5,62.4 358.56,62.86 359.62,63.31 360.69,62.96 361.75,63.63 362.81,63.46 363.88,64.23 364.94,64.39 366,64.2 367.1,63.92 368.2,64.12 369.3,64.37 370.4,65.35 371.5,65 372.9,63.43 374.3,62 375.4,60.39 376.5,58.5 378.4,57.2 379.5,57.03 380.6,57.31 381.7,57.22 382.8,57.24 383.9,57.54 385,57.5 386,58.09 387,58.94 388,59.2 389,59.97 390,60.39 391,61.04 392,61 393,61.61 394,61.46 395,62.65 396,63.18 397,63.53 398,63.5 399.12,64.16 400.24,64.9 401.36,64.92 402.48,66.18 403.6,66.4 404.73,65.68 405.87,64.56 407,64 408.17,61.52 409.33,60.39 410.5,58 411.52,58.57 412.54,57.61 413.57,58.43 414.59,58.03 415.61,57.78 416.63,57.97 417.66,58.53 418.68,58.68 419.7,58.3 420.74,58.47 421.79,59.77 422.83,59.81 423.87,61.23 424.91,61.47 425.96,62.75 427,63 428,63.9 429,63.76 430,64.67 431,64.29 432,64.41 433,65.36 434,65.11 435,66 436.12,65.17 437.25,64.9 438.38,64.62 439.5,64 440.67,61.96 441.83,60.16 443,59 444.23,59.04 445.47,58.06 446.7,57.9 447.88,58.58 449.05,58.69 450.22,58.29 451.4,58.6 452.5,59.12 453.6,59.76 454.7,60.46 455.8,60.97 456.9,61.5 458,62 459,62.47 460,63.16 461,63.02 462,63.27 463,63.92 464,63.73 465,64.14 466,65.22 467,65.05 468,65.42 469,65.7 470,64.43 471,64.14 472,63.5 473,62.09 474,59.97 475,59 476.27,58.49 477.53,57.88 478.8,57.1 479.8,56.82 480.8,57.64 481.8,57.66 482.8,58.1 483.8,57.94 484.8,58.3 485.83,58.98 486.86,59.48 487.89,59.15 488.91,59.65 489.94,60.78 490.97,61.55 492,61.5 493.06,61.51 494.12,62.01 495.18,62.44 496.24,62.42 497.3,62.75 498.36,62.97 499.42,63.32 500.48,63.85 501.54,63.8 502.6,64.3 503.8,63.01 505,62 506,61.3 507,59.48 508,59.08 509,58 510.07,57.81 511.15,56.89 512.22,56.34 513.3,56.2 514.42,56.92 515.53,56.68 516.65,57.01 517.77,57.66 518.88,58.33 520,58.5 521,58.5 522,59.18 523,59.63 524,60.62 525,60.62 526,61.52 527,61.2 528,62 529,62.2 530,62.92 531,63.55 532,63.45 533,63.57 534,63.83 535,64.66 536,65 537.25,63.41 538.5,62.5 539.67,61.3 540.83,59.81 542,57.9 543.02,57.45 544.05,57.46 545.08,57.94 546.1,57.66 547.12,57.74 548.15,57.13 549.18,56.79 550.2,57.1 551.4,57.6 552.6,58.87 553.8,59.02 555,60 556.07,60.46 557.13,61.18 558.2,61.81 559.27,62.43 560.33,63.63 561.4,63.8" fill="none" stroke="#858585" stroke-width="0.95" stroke-linejoin="round" stroke-linecap="round" />
<polyline points="309.2,122 310.26,121.77 311.31,121.7 312.37,122.13 313.43,121.93 314.49,121.91 315.54,122.4 316.6,122.6 317.65,123.65 318.7,124.06 319.75,124.57 320.8,124.47 321.85,125.39 322.9,125.63 323.95,126.06 325,127 326,126.93 327,127.46 328,128.71 329,128.99 330,129.37 331,129.76 332,129.43 333,129.97 334,130.6 335,130.22 336,129.81 337,129 338,126.43 339,123 340.3,122.61 341.6,121.3 342.87,120.24 344.13,120.29 345.4,119.6 346.4,119.89 347.4,119.77 348.4,119.45 349.4,119.89 350.4,120 351.49,120.15 352.57,121.81 353.66,122.37 354.74,122.63 355.83,122.97 356.91,124.35 358,124.5 359,125.09 360,125.96 361,126.42 362,126.51 363,126.9 364,127.62 365,128 366.12,128.25 367.23,128.26 368.35,128.77 369.47,129.71 370.58,129.12 371.7,130 372.7,126.99 373.7,125.22 374.7,122.6 375.77,121.84 376.85,121.64 377.93,121.07 379,120.6 380,120.61 381,121.6 382,120.83 383,121.3 384,121.24 385,121.96 386,122 387,122.42 388,123.2 389,124.36 390,124.53 391,125.51 392,126.61 393,126.33 394,127.5 395.11,127.53 396.23,128.29 397.34,129.49 398.46,129.87 399.57,129.97 400.69,130.64 401.8,131.4 402.87,129.55 403.93,128.42 405,127 406.8,123 407.83,121.88 408.87,122.1 409.9,121.78 410.93,121.28 411.97,120.45 413,119.6 414,120.85 415,120.42 416,121.45 417,122.96 418,123.43 419,123.69 420,124.5 421,125.72 422,126.01 423,126.93 424,126.99 425,127.55 426,128.6 427,128.77 428,128.64 429,129.18 430,130.11 431,129.6 432,129.45 433,129.73 434,130.12 435,131.1 436,131 437.23,127.94 438.47,124.95 439.7,122.3 440.95,120.62 442.2,119.9 443.26,120.72 444.31,120.29 445.37,120.28 446.43,120.34 447.49,120.58 448.54,120.96 449.6,121.6 450.65,122.36 451.7,122.28 452.75,122.7 453.8,123.79 454.85,124.05 455.9,125.5 456.95,125 458,126 459.03,126.49 460.06,127.23 461.09,127.24 462.12,128.39 463.15,128.22 464.18,128.39 465.21,129.04 466.24,129.04 467.27,129.96 468.3,130.5 469.53,127.63 470.77,125.83 472,122.8 473.23,122.36 474.47,121.13 475.7,120.3 476.74,120.01 477.77,120.56 478.81,120.82 479.85,121.05 480.89,121.35 481.93,122.39 482.96,121.8 484,122.5 485,122.46 486,124.01 487,124.08 488,125.09 489,124.88 490,125.98 491,126.18 492,126.85 493,127 494.11,127.73 495.23,127.87 496.34,127.82 497.45,128.4 498.56,129.64 499.67,130.1 500.79,130.57 501.9,130.5 502.93,127.57 503.97,125.22 505,122.3 506,121.86 507,120.87 508,119.9 509,120.73 510,120.83 511,121.44 512,121.92 513,121.87 514,123.11 515,123.6 516,123.5 517,123.49 518,125.07 519,125.55 520,125.7 521,125.45 522,126.98 523,126.55 524,128.06 525,128 526,128.58 527,128.22 528,128.73 529,129.66 530,129.96 531,130.55 532,131.14 533,131 534.1,129.31 535.2,127.7 536.3,127.46 537.4,125.6 538.48,123.27 539.55,122.55 540.62,119.89 541.7,118.6 542.75,119.29 543.8,119.57 544.85,120 545.9,119.93 546.95,120.64 548,120.5 549,120.93 550,122.28 551,122.65 552,124.11 553,124.76 554,125.18 555,126 556.1,126.67 557.2,126.7 558.3,127.34 559.4,128.65 560.5,129.15 561.6,129.8" fill="none" stroke="#858585" stroke-width="0.95" stroke-linejoin="round" stroke-linecap="round" />
<path d="M339.9,59.37 L343.5,59.37 L341.7,63.97 Z" fill="#111"/>
<path d="M372.5,60.47 L376.1,60.47 L374.3,65.07 Z" fill="#111"/>
<path d="M405.2,62.07 L408.8,62.07 L407,66.67 Z" fill="#111"/>
<path d="M437.7,61.97 L441.3,61.97 L439.5,66.57 Z" fill="#111"/>
<path d="M470.2,61.97 L473.8,61.97 L472,66.57 Z" fill="#111"/>
<path d="M503.2,60.47 L506.8,60.47 L505,65.07 Z" fill="#111"/>
<path d="M535.8,62.47 L539.4,62.47 L537.6,67.07 Z" fill="#111"/>
<path d="M339.8,119.47 L343.4,119.47 L341.6,124.07 Z" fill="#111"/>
<path d="M372.9,120.67 L376.5,120.67 L374.7,125.27 Z" fill="#111"/>
<path d="M405,121.47 L408.6,121.47 L406.8,126.07 Z" fill="#111"/>
<path d="M437.9,120.47 L441.5,120.47 L439.7,125.07 Z" fill="#111"/>
<path d="M470.2,120.97 L473.8,120.97 L472,125.57 Z" fill="#111"/>
<path d="M503.2,120.47 L506.8,120.47 L505,125.07 Z" fill="#111"/>
<path d="M535.6,123.67 L539.2,123.67 L537.4,128.27 Z" fill="#111"/>
<text x="2.6" y="213.6" font-family="Liberation Sans, sans-serif" font-size="20.8" font-weight="bold" text-anchor="start" fill="#000" >b</text>
<text x="68.9" y="213.1" font-family="Liberation Serif, serif" font-size="21" font-weight="normal" text-anchor="start" fill="#000" letter-spacing="0.7">ERG</text>
<text x="117.5" y="213.1" font-family="Liberation Serif, serif" font-size="21" font-weight="normal" text-anchor="start" fill="#000" letter-spacing="0.7">of</text>
<text x="142.9" y="213.1" font-family="Liberation Serif, serif" font-size="21" font-weight="normal" text-anchor="start" fill="#000" letter-spacing="0.7">Patient</text>
<text x="208.8" y="213.1" font-family="Liberation Serif, serif" font-size="21" font-weight="normal" text-anchor="start" fill="#000" letter-spacing="0.7">#2</text>
<text x="109.5" y="233.6" font-family="Liberation Sans, sans-serif" font-size="7" font-weight="bold" text-anchor="start" fill="#000" textLength="129.2" lengthAdjust="spacingAndGlyphs" >1 - Scotopic 0.01 ERG-Rod Response</text>
<text x="432.8" y="219.8" font-family="Liberation Sans, sans-serif" font-size="7" font-weight="bold" text-anchor="start" fill="#000" textLength="58.6" lengthAdjust="spacingAndGlyphs" >2 - 30 Hz. Flicker</text>
<polyline points="20,310.4 21.25,310.42 22.5,309.98 23.75,310.02 25,310.02 26.25,310.31 27.5,310.58 28.75,310.17 30,310.1 31.25,310.48 32.5,310.02 33.75,310.2 35,310.62 36.25,310.8 37.5,310.1 38.75,310.32 40,310.6 41.25,310.13 42.5,310.14 43.75,310.53 45,309.93 46.25,310.45 47.5,310.51 48.75,310.58 50,310 51.22,310.22 52.44,310.16 53.67,309.92 54.89,310.38 56.11,310.08 57.33,310.04 58.56,310.28 59.78,309.91 61,310.4 62.4,309.89 63.8,309.91 65.2,310.66 66.6,310.78 68,310.3 69.33,310.64 70.67,311.31 72,311.4 73.35,312.35 74.7,312.8 76.35,312.3 78,312 80,311.3 82,310.2 83.5,309.33 85,307.8 86.27,306.29 87.53,305.37 88.8,304 90.4,302 92,300 93.4,297.99 94.8,295.96 96.2,294.17 97.6,292 98.8,290.85 100,289.5 101.3,288.09 102.6,287.47 103.9,286 105.2,284.11 106.5,283.46 107.8,282 109.22,280.35 110.64,279.23 112.06,277.09 113.48,275 114.9,273.8 116.45,273.84 118,273.2 119.43,273.85 120.87,274.45 122.3,274.4 123.53,274.05 124.77,273.91 126,273.2 127.27,272.5 128.53,271.39 129.8,270.7 131.03,269.49 132.27,269.14 133.5,268.6 135,268.85 136.5,268.9 137.97,268.64 139.43,268.58 140.9,268.2 142.12,268.51 143.34,268.24 144.56,268.79 145.78,269.12 147,268.9 148.25,269.02 149.5,268.91 150.75,268.07 152,268.2 153.22,268.93 154.45,269.05 155.68,269.21 156.9,270.1 158.14,269.99 159.38,270.3 160.62,271 161.86,270.39 163.1,271.1 164.34,271.02 165.58,271.59 166.82,271.77 168.06,271.58 169.3,272.3 170.53,272.21 171.75,273.45 172.97,273.86 174.2,273.8 175.65,274.32 177.1,274.11 178.55,274.97 180,275 181.47,275.96 182.95,276.35 184.43,276.97 185.9,277.9 187.3,278.33 188.7,278.29 190.1,278.63 191.5,278.56 192.9,279.2 194.7,280.33 196.5,282 198.2,279.7 199.67,281.49 201.13,283.18 202.6,285 203.81,285.57 205.03,285.72 206.24,286.77 207.45,286.78 208.66,287.85 209.88,288.05 211.09,288.93 212.3,289.4 213.73,288.94 215.15,288.51 216.57,288.21 218,288.5 220.3,287.3 221.6,290.4 222.9,292.9 224.32,293.38 225.74,294.48 227.16,295.01 228.58,295.47 230,296.8 231.26,297.08 232.51,296.93 233.77,296.34 235.03,296.4 236.29,297.12 237.54,296.98 238.8,296.8 240.55,299.77 242.3,301.7 243.62,301.75 244.95,302.37 246.28,301.68 247.6,302.58 248.93,302.01 250.25,302.02 251.58,302.64 252.9,302.6 254.65,304.94 256.4,307.9 257.73,307.83 259.07,308.24 260.4,307.23 261.73,307.4 263.07,307.82 264.4,307.4" fill="none" stroke="#cc30dc" stroke-width="1.4" stroke-linejoin="round" stroke-linecap="round" />
<polyline points="20,366.3 21.3,365.63 22.6,366.15 23.9,365.28 25.2,365.53 26.5,365.5 27.8,364.92 29.1,364.9 30.38,364.53 31.66,365.25 32.95,364.52 34.23,364.84 35.51,364.43 36.79,365.39 38.07,364.52 39.35,364.63 40.64,364.5 41.92,364.45 43.2,364.9 44.41,364.37 45.63,364.04 46.84,364.02 48.06,363.98 49.27,364.38 50.49,364.06 51.7,363.5 52.93,363.62 54.15,363.89 55.38,364.68 56.6,364.1 57.83,365.14 59.05,364.55 60.27,365.14 61.5,365.6 62.92,365.43 64.34,364.6 65.76,365.07 67.18,364.52 68.6,364.2 70.02,364.74 71.45,365.54 72.88,366.2 74.3,367 75.7,366.11 77.1,365.83 78.5,366.44 79.9,365.9 81.3,365.2 82.72,364.71 84.15,363.43 85.58,362.57 87,362 88.35,360.75 89.7,359.7 91.02,358.03 92.33,356.66 93.65,354.64 94.97,353.7 96.28,352.08 97.6,350 99.02,347.71 100.44,346.52 101.86,344.55 103.28,341.6 104.7,340 105.94,337.95 107.18,336.98 108.42,334.97 109.66,333.61 110.9,331.7 112.23,330.59 113.57,329.68 114.9,328.6 116.13,328.3 117.37,327.43 118.6,326.7 119.83,326.02 121.07,326.42 122.3,326.1 123.53,326.2 124.77,325.63 126,325.5 127.27,324.64 128.53,325.02 129.8,324.3 131.03,323.94 132.25,323.01 133.47,321.97 134.7,321.2 135.94,321.48 137.18,321.82 138.42,322.05 139.66,321.73 140.9,321.8 142.12,321.97 143.34,321.9 144.56,321.64 145.78,321.84 147,321.8 148.24,321.41 149.48,321.64 150.72,322.56 151.96,322.62 153.2,322.4 154.44,322.82 155.68,322.47 156.92,322.74 158.16,322.45 159.4,322.7 160.64,323.26 161.88,323.09 163.12,323.87 164.36,323.87 165.6,323.9 166.83,323.5 168.07,324.04 169.3,323.6 170.53,324.96 171.77,325.49 173,326.1 174.4,326.01 175.8,326.24 177.2,326.03 178.6,325.48 180,325.5 181.27,326.11 182.53,326.22 183.8,326.22 185.07,327.11 186.33,327.09 187.6,327.9 188.92,328.42 190.25,329.34 191.57,329.25 192.9,329.66 194.22,331.03 195.55,331.11 196.88,331.71 198.2,332.3 199.44,331.95 200.68,330.99 201.92,331.35 203.16,330.99 204.4,330.2 205.72,331.34 207.03,333.09 208.35,333.67 209.67,335.38 210.98,335.98 212.3,337.6 213.6,337.81 214.9,337.08 216.2,336.8 217.6,327.4 218.95,333.51 220.3,339.4 221.62,340.53 222.93,340.81 224.25,341.51 225.57,342.4 226.88,342.95 228.2,343.8 229.52,344.41 230.85,345 232.18,344.62 233.5,345.6 235.1,341.1 236.7,336.8 238.2,344.25 239.7,350.9 240.92,351.1 242.14,350.69 243.36,350.63 244.58,350.18 245.8,349.6 247.22,350.38 248.64,349.9 250.06,351.18 251.48,350.95 252.9,351.7 254.32,352.53 255.74,352.26 257.16,352.92 258.58,353.46 260,354.4 261.3,354.84 262.6,354.27 263.9,353.92 265.2,354.4" fill="none" stroke="#45cf45" stroke-width="1.4" stroke-linejoin="round" stroke-linecap="round" />
<polyline points="20,373.3 21.22,372.75 22.44,373.65 23.66,373.46 24.88,372.73 26.11,372.78 27.33,373.2 28.55,372.85 29.77,372.89 30.99,373.25 32.21,373.46 33.43,372.86 34.65,373.38 35.87,372.35 37.09,373.28 38.32,372.6 39.54,373.13 40.76,372.41 41.98,372.78 43.2,372.6 44.42,372.21 45.64,372.46 46.86,373.17 48.08,373.53 49.3,372.9 50.52,373.28 51.74,373.73 52.96,373.58 54.18,374.39 55.4,374.51 56.62,374.57 57.84,374.46 59.06,374.81 60.28,374.5 61.5,374.7 62.78,375.12 64.06,374.68 65.34,374.53 66.62,374.94 67.9,374.56 69.18,374.75 70.46,374.09 71.74,373.99 73.02,374.31 74.3,374 75.7,374.05 77.1,373.74 78.5,373.15 79.9,373.49 81.3,373.3 82.72,372.82 84.14,371.75 85.56,370.46 86.98,370.44 88.4,369.1 89.72,366.88 91.04,365.78 92.36,364.39 93.68,362.29 95,360.6 96.3,358.48 97.6,357 98.87,355.11 100.14,353.65 101.41,352.45 102.69,351.37 103.96,349.12 105.23,347.75 106.5,346.5 107.9,345.29 109.3,343.93 110.7,341.86 112.1,340.36 113.5,339.4 114.78,339.52 116.05,339.18 117.32,338.91 118.6,338.5 119.83,338.61 121.07,339.59 122.3,340.3 123.53,339.2 124.77,337.98 126,337.2 127.25,336.63 128.5,336.12 129.75,334.58 131,334.1 132.22,334.89 133.45,334.25 134.68,334.72 135.9,335.4 137.14,334.7 138.38,334.95 139.62,333.95 140.86,334.34 142.1,333.5 143.32,334.05 144.55,334.02 145.78,334.34 147,334.8 148.4,334.98 149.8,333.95 151.2,334.57 152.6,334.1 154.03,334.74 155.47,335.81 156.9,336.2 158.15,335.91 159.4,336.59 160.65,336.87 161.9,337.2 163.12,338.05 164.34,338.11 165.56,338.08 166.78,339.01 168,339.1 169.24,339.66 170.48,339.09 171.72,339.58 172.96,340.12 174.2,340.3 175.65,341.43 177.1,341.97 178.55,342.41 180,342.8 181.27,342.72 182.53,342.76 183.8,342.47 185.07,342.47 186.33,341.94 187.6,342 189.02,342.73 190.44,344.95 191.86,346.2 193.28,346.57 194.7,348.2 196.3,341.88 197.9,335.5 199.17,343.05 200.43,350.29 201.7,357 202.9,355.6 204.1,353.8 205.3,352.6 206.62,353.1 207.95,353.53 209.28,354.57 210.6,354.37 211.93,355.76 213.25,355.65 214.58,356.72 215.9,357 217.12,354.12 218.35,351.29 219.58,348.98 220.8,346.1 222.3,353.2 223.8,361.4 225.08,362.29 226.36,363.07 227.63,363.86 228.91,364.61 230.19,364.3 231.47,366.02 232.74,365.76 234.02,367.04 235.3,367.6 236.63,364.32 237.97,360.37 239.3,357 240.8,363.95 242.3,370.3 243.62,371.15 244.95,371.31 246.28,370.94 247.6,371.61 248.93,371.9 250.25,372.77 251.58,372.8 252.9,372.9 254.65,375.23 256.4,378.2 257.66,378.21 258.91,377.58 260.17,377.04 261.43,377.18 262.69,376.38 263.94,376.7 265.2,376.4" fill="none" stroke="#c83434" stroke-width="1.4" stroke-linejoin="round" stroke-linecap="round" />
<polyline points="20,385.3 21.3,385.57 22.6,385.26 23.9,384.58 25.2,384.29 26.5,384.77 27.8,383.77 29.1,383.9 30.38,383.83 31.66,384.35 32.95,384.11 34.23,383.77 35.51,383.93 36.79,384.63 38.07,384.24 39.35,383.95 40.64,383.94 41.92,384.75 43.2,384.6 44.62,384.39 46.04,384.07 47.46,383.8 48.88,384.26 50.3,383.9 51.54,383.6 52.79,384.45 54.03,383.96 55.28,383.98 56.52,384.24 57.77,384.4 59.01,384.75 60.26,384.77 61.5,385.3 62.78,385.85 64.06,385.3 65.34,385.75 66.62,385.53 67.9,386.51 69.18,385.88 70.46,386.32 71.74,386.89 73.02,386.66 74.3,386.7 75.7,386.33 77.1,385.41 78.5,385.45 79.9,384.79 81.3,384.6 82.72,383.4 84.14,382.48 85.56,381.35 86.98,380.27 88.4,379 89.72,377.19 91.04,375.46 92.36,374.41 93.68,372.42 95,370.5 96.3,368.42 97.6,365.9 98.87,364.24 100.14,362.91 101.41,361.65 102.69,360.38 103.96,358.63 105.23,356.81 106.5,355.3 108.25,353.61 110,352.7 111.22,351.64 112.45,350.25 113.68,349.07 114.9,347.7 116.13,347.23 117.37,347.77 118.6,347.1 119.83,347.67 121.07,348 122.3,349 123.55,348.01 124.8,346.59 126.05,345.57 127.3,344.6 128.53,344.81 129.77,344.12 131,343.52 132.23,343.38 133.47,342.67 134.7,342.8 135.94,342.87 137.18,342.29 138.42,342.47 139.66,341.33 140.9,341.5 142.12,341.33 143.34,342.1 144.56,341.52 145.78,342.4 147,342.2 148.24,342.49 149.48,343.09 150.72,343.26 151.96,343.81 153.2,344 154.44,344.35 155.68,343.85 156.92,344.38 158.16,343.86 159.4,344 160.63,345.07 161.87,345.36 163.1,345.88 164.33,347.07 165.57,347.09 166.8,348.3 168.03,347.18 169.27,346.71 170.5,346.5 171.72,346.61 172.95,347.64 174.18,348.07 175.4,349 176.93,349.56 178.47,349.64 180,349.6 181.21,350.25 182.43,350.57 183.64,350.07 184.86,350.26 186.07,351.35 187.29,351.9 188.5,351.7 189.71,352.46 190.93,352.7 192.14,354.05 193.35,355.16 194.56,355.29 195.77,356.23 196.99,356.79 198.2,357.9 199.52,356.51 200.85,354.09 202.18,352.58 203.5,350.9 204.97,353.92 206.43,357.95 207.9,361.4 209.18,362.34 210.46,362.68 211.73,363.06 213.01,364.14 214.29,364.75 215.57,365.15 216.84,365.31 218.12,366.04 219.4,366.7 220.72,365.82 222.05,364.28 223.38,363.84 224.7,362.3 226.45,368.23 228.2,374.7 229.43,374.81 230.66,374.59 231.89,374.78 233.12,375.9 234.35,375.43 235.58,375.21 236.81,375.69 238.04,375.89 239.27,376.52 240.5,376.4 241.77,376.13 243.04,375.43 244.31,375.41 245.59,374.9 246.86,373.6 248.13,373.83 249.4,372.9 251.15,369.61 252.9,366.2 254.2,375.73 255.5,385.3 256.71,385.42 257.93,384.91 259.14,385.38 260.35,384.78 261.56,385.67 262.77,385.57 263.99,384.82 265.2,385.3" fill="none" stroke="#50dede" stroke-width="1.4" stroke-linejoin="round" stroke-linecap="round" />
<polyline points="20,393.1 21.3,392.96 22.6,392.74 23.9,392.55 25.2,393.38 26.5,393.05 27.8,392.7 29.1,393.1 30.38,392.86 31.66,393.6 32.95,392.81 34.23,392.85 35.51,393.38 36.79,393.54 38.07,393.22 39.35,393.7 40.64,393.63 41.92,393.21 43.2,393.8 44.42,393.41 45.64,393.92 46.86,394.06 48.08,393.96 49.3,394.17 50.52,393.86 51.74,394.12 52.96,393.79 54.18,394 55.4,393.92 56.62,393.75 57.84,393.84 59.06,394.08 60.28,393.49 61.5,393.8 62.92,394.55 64.34,394.61 65.76,395.12 67.18,395.07 68.6,395.9 70.02,396.61 71.45,396.46 72.88,397.01 74.3,397.3 75.7,397.17 77.1,396.41 78.5,396.6 79.9,396.04 81.3,395.47 82.7,394.03 84.1,393.8 85.53,392.67 86.97,391.08 88.4,390.3 89.72,389.11 91.04,386.44 92.36,385.56 93.68,383.88 95,381.8 96.3,380.03 97.6,378.2 98.87,377 100.14,374.66 101.41,373.6 102.69,371.81 103.96,370.08 105.23,369.1 106.5,367.6 108.25,366.42 110,364.4 111.22,363.13 112.45,361.96 113.68,361.6 114.9,360.1 116.13,360.03 117.37,360.79 118.6,361.3 119.85,360.83 121.1,360.62 122.35,361.23 123.6,360.7 124.82,360.22 126.05,359.22 127.28,358.77 128.5,358.2 129.75,358 131,356.59 132.25,356.17 133.5,355.7 135,356.3 136.5,357.6 137.73,356.48 138.97,356.09 140.2,355.1 141.56,355.65 142.92,356.44 144.28,357.12 145.64,356.57 147,357.6 148.24,357.28 149.48,356.92 150.72,356.49 151.96,355.81 153.2,355.5 154.44,356.26 155.68,356.49 156.92,356.98 158.16,358.28 159.4,358.8 160.64,359.54 161.88,359.54 163.12,359.59 164.36,359.47 165.6,360.1 166.82,360.12 168.04,360.75 169.26,360.94 170.48,361.59 171.7,361.3 173.08,361.94 174.47,362.42 175.85,362.6 177.23,363.27 178.62,363.45 180,363.8 181.24,364.24 182.49,365.38 183.73,365.38 184.98,365.75 186.22,366.71 187.47,367.13 188.71,367.09 189.96,367.73 191.2,368.5 193.5,357.9 194.77,362.76 196.03,368.11 197.3,372.9 198.63,372.97 199.97,373.28 201.3,372.48 202.63,372.5 203.97,372.59 205.3,372.9 206.53,370.87 207.75,368.95 208.97,367.46 210.2,365.5 211.7,372.95 213.2,380.8 214.52,380.83 215.83,379.86 217.15,378.96 218.47,378.63 219.78,378.41 221.1,378.2 222.37,379.43 223.64,379.9 224.91,381.78 226.19,381.88 227.46,382.99 228.73,384.48 230,385.3 231.26,383.98 232.51,382.48 233.77,381.44 235.03,381.04 236.29,379.57 237.54,378.7 238.8,377.3 240.55,384.22 242.3,391.4 243.62,391.37 244.95,392.38 246.28,392.25 247.6,392.52 248.93,393.11 250.25,393.04 251.58,393.42 252.9,394.1 254.3,389.7 256.4,395.8 257.66,395.75 258.91,395.98 260.17,396.73 261.43,396.73 262.69,396.49 263.94,396.62 265.2,397.1" fill="none" stroke="#25259c" stroke-width="1.4" stroke-linejoin="round" stroke-linecap="round" />
<polyline points="20,404.4 21.3,403.85 22.6,404.1 23.9,403.55 25.2,403.55 26.5,404.01 27.8,403.62 29.1,403.7 30.38,403.65 31.66,403.39 32.95,404.31 34.23,404.14 35.51,404 36.79,404.12 38.07,403.79 39.35,404.3 40.64,404.55 41.92,403.99 43.2,404.4 44.44,403.83 45.68,404.06 46.91,403.47 48.15,403.6 49.39,403.27 50.62,402.85 51.86,403 53.1,403 54.5,403.58 55.9,403.52 57.3,403.38 58.7,403.44 60.1,403.72 61.5,404.4 62.92,405.08 64.34,404.97 65.76,404.93 67.18,405.01 68.6,405.1 70.02,406.54 71.45,406.77 72.88,408.56 74.3,409.3 75.7,408.96 77.1,407.68 78.5,407.2 79.9,406.4 81.3,404.9 82.7,404.23 84.1,403 85.53,401.29 86.97,399.8 88.4,398.7 89.72,397.27 91.04,394.46 92.36,392.53 93.68,390.59 95,388.9 96.3,387.96 97.6,387 98.87,385.15 100.14,383.47 101.41,382.3 102.69,380.9 103.96,378.89 105.23,378.45 106.5,376.4 108.25,373.98 110,372.4 111.22,371.34 112.45,370.76 113.68,369.5 114.9,368.1 116.13,368.33 117.37,368.19 118.6,367.5 119.85,368.59 121.1,369.3 122.32,368.76 123.55,368.18 124.78,367.26 126,366.9 127.24,366.76 128.48,365.63 129.72,365.27 130.96,364.08 132.2,363.8 133.44,363.46 134.68,364.1 135.92,364.69 137.16,364.2 138.4,364.4 139.64,364.01 140.88,364.06 142.12,364.57 143.36,363.62 144.6,363.8 145.82,363.82 147.04,364.25 148.26,363.89 149.48,364.25 150.7,364.4 151.93,363.65 153.17,363.88 154.4,363.1 155.65,363.13 156.9,363.65 158.15,364.42 159.4,365 160.64,365.67 161.88,366.08 163.12,366.61 164.36,366.44 165.6,366.9 166.82,366.71 168.04,367.4 169.26,367.89 170.48,367.82 171.7,368.1 172.95,368.15 174.2,367.77 175.45,367.68 176.7,367.5 178.35,370.1 180,371.8 181.34,372.59 182.69,373.66 184.03,374.52 185.37,375.98 186.71,376.83 188.06,377.14 189.4,378.2 190.61,377.04 191.82,375.85 193.04,374.47 194.25,373.71 195.46,372.8 196.68,371.45 197.89,370.51 199.1,369.4 200.85,376.97 202.6,385.3 203.88,386.13 205.16,386.3 206.43,385.93 207.71,386.64 208.99,387.47 210.27,388.06 211.54,388.12 212.82,387.95 214.1,388.8 215.34,387.07 216.58,384.77 217.82,383.13 219.06,381.48 220.3,380 221.6,386.29 222.9,392.3 224.22,392.56 225.55,392.76 226.88,393.6 228.2,394.3 229.53,394.21 230.85,395.25 232.18,394.82 233.5,395.8 234.82,396.25 236.15,396.17 237.47,397.38 238.8,397.3 240.12,398.5 241.45,398.84 242.78,398.83 244.1,399.4 245.57,397.4 247.03,396.07 248.5,395 249.8,402.1 251.1,408.2 252.52,408.18 253.94,408.59 255.36,408.65 256.78,407.94 258.2,408.2 259.6,408.04 261,407.52 262.4,407.2 263.8,406.6 265.2,406.4" fill="none" stroke="#cc30dc" stroke-width="1.4" stroke-linejoin="round" stroke-linecap="round" />
<rect x="61" y="308.4" width="28.8" height="29" stroke="#d688e4" stroke-width="1.1" fill="none"/>
<line x1="118.6" y1="247.9" x2="170.1" y2="247.9" stroke="#8ee08e" stroke-width="1.5" />
<line x1="118.6" y1="256.5" x2="170.1" y2="256.5" stroke="#d86060" stroke-width="1" />
<line x1="118.6" y1="268.2" x2="170.1" y2="268.2" stroke="#9ee8e8" stroke-width="1.2" />
<line x1="118.6" y1="278.5" x2="170.1" y2="278.5" stroke="#5a5ad0" stroke-width="1" />
<line x1="118.6" y1="281.5" x2="170.1" y2="281.5" stroke="#e08ae8" stroke-width="1.2" />
<line x1="118.6" y1="291.1" x2="170.1" y2="291.1" stroke="#cc30dc" stroke-width="1.2" />
<line x1="118.6" y1="335.7" x2="170.1" y2="335.7" stroke="#b8e8a0" stroke-width="1.4" />
<line x1="118.6" y1="344.6" x2="170.1" y2="344.6" stroke="#d86060" stroke-width="1" />
<line x1="118.6" y1="356.4" x2="170.1" y2="356.4" stroke="#a8ecec" stroke-width="1.2" />
<line x1="118.6" y1="366.2" x2="170.1" y2="366.2" stroke="#5a5ad0" stroke-width="1" />
<line x1="118.6" y1="379" x2="170.1" y2="379" stroke="#cc30dc" stroke-width="1.2" />
<line x1="61" y1="362" x2="89.3" y2="362" stroke="#8ee08e" stroke-width="1.2" />
<line x1="61" y1="371.2" x2="89.3" y2="371.2" stroke="#e07070" stroke-width="1" />
<line x1="61" y1="383.2" x2="89.3" y2="383.2" stroke="#a8ecec" stroke-width="1.2" />
<line x1="61" y1="392.4" x2="89.3" y2="392.4" stroke="#3a3aa8" stroke-width="1" />
<line x1="61" y1="400.4" x2="89.3" y2="400.4" stroke="#e07070" stroke-width="1" />
<line x1="61" y1="402.3" x2="89.3" y2="402.3" stroke="#e890ee" stroke-width="1.2" />
<line x1="61" y1="412.8" x2="89.3" y2="412.8" stroke="#8ee8ee" stroke-width="1.4" />
<line x1="118.6" y1="240.7" x2="118.6" y2="379" stroke="#cc30dc" stroke-width="1" />
<line x1="170.1" y1="240.7" x2="170.1" y2="379" stroke="#c77ee3" stroke-width="1.2" />
<line x1="118.6" y1="281.5" x2="118.6" y2="291.1" stroke="#5a5ad0" stroke-width="1" />
<line x1="170.1" y1="281.5" x2="170.1" y2="291.1" stroke="#5a5ad0" stroke-width="1" />
<line x1="61" y1="362" x2="61" y2="371.2" stroke="#8ee08e" stroke-width="1.1" />
<line x1="61" y1="371.2" x2="61" y2="383.2" stroke="#e07070" stroke-width="1.1" />
<line x1="61" y1="383.2" x2="61" y2="392.4" stroke="#8ee8ee" stroke-width="1.1" />
<line x1="61" y1="392.4" x2="61" y2="400.4" stroke="#5a5ad0" stroke-width="1.1" />
<line x1="61" y1="400.4" x2="61" y2="416.5" stroke="#cc44dc" stroke-width="1.2" />
<line x1="89.3" y1="362" x2="89.3" y2="371.2" stroke="#a8e4a8" stroke-width="1" />
<line x1="89.3" y1="371.2" x2="89.3" y2="383.2" stroke="#e89a9a" stroke-width="1" />
<line x1="89.3" y1="383.2" x2="89.3" y2="392.4" stroke="#a8ecec" stroke-width="1" />
<line x1="89.3" y1="392.4" x2="89.3" y2="400.4" stroke="#8a8ad8" stroke-width="1" />
<line x1="89.3" y1="400.4" x2="89.3" y2="416.5" stroke="#d070e0" stroke-width="1.1" />
<text x="21" y="311.7" font-family="Liberation Sans, sans-serif" font-size="4.3" font-weight="normal" text-anchor="start" fill="#444" stroke="#444" stroke-width="0.15" textLength="17.5" lengthAdjust="spacingAndGlyphs" >1-1 SA(RE)</text>
<text x="21" y="366.8" font-family="Liberation Sans, sans-serif" font-size="4.3" font-weight="normal" text-anchor="start" fill="#444" stroke="#444" stroke-width="0.15" textLength="14" lengthAdjust="spacingAndGlyphs" >1-1 (RE)</text>
<text x="21" y="374.3" font-family="Liberation Sans, sans-serif" font-size="4.3" font-weight="normal" text-anchor="start" fill="#444" stroke="#444" stroke-width="0.15" textLength="14" lengthAdjust="spacingAndGlyphs" >1-2 (RE)</text>
<text x="21" y="385.8" font-family="Liberation Sans, sans-serif" font-size="4.3" font-weight="normal" text-anchor="start" fill="#444" stroke="#444" stroke-width="0.15" textLength="14" lengthAdjust="spacingAndGlyphs" >1-3 (RE)</text>
<text x="21" y="394.5" font-family="Liberation Sans, sans-serif" font-size="4.3" font-weight="normal" text-anchor="start" fill="#444" stroke="#444" stroke-width="0.15" textLength="14" lengthAdjust="spacingAndGlyphs" >1-4 (RE)</text>
<text x="21" y="405.1" font-family="Liberation Sans, sans-serif" font-size="4.3" font-weight="normal" text-anchor="start" fill="#444" stroke="#444" stroke-width="0.15" textLength="14" lengthAdjust="spacingAndGlyphs" >1-5 (RE)</text>
<line x1="143.3" y1="262" x2="143.3" y2="272.6" stroke="#555" stroke-width="0.9" stroke-dasharray="1.3,0.8"/>
<text x="143.3" y="261.6" font-family="Liberation Sans, sans-serif" font-size="4.4" font-weight="normal" text-anchor="middle" fill="#444" stroke="#444" stroke-width="0.15" >b</text>
<line x1="144.6" y1="316.5" x2="144.6" y2="324.9" stroke="#555" stroke-width="0.9" stroke-dasharray="1.3,0.8"/>
<text x="144.6" y="316.1" font-family="Liberation Sans, sans-serif" font-size="4.4" font-weight="normal" text-anchor="middle" fill="#444" stroke="#444" stroke-width="0.15" >b</text>
<line x1="142.1" y1="327.5" x2="142.1" y2="337.2" stroke="#555" stroke-width="0.9" stroke-dasharray="1.3,0.8"/>
<text x="142.1" y="327.1" font-family="Liberation Sans, sans-serif" font-size="4.4" font-weight="normal" text-anchor="middle" fill="#444" stroke="#444" stroke-width="0.15" >b</text>
<line x1="144.6" y1="335" x2="144.6" y2="345.2" stroke="#555" stroke-width="0.9" stroke-dasharray="1.3,0.8"/>
<text x="144.6" y="334.6" font-family="Liberation Sans, sans-serif" font-size="4.4" font-weight="normal" text-anchor="middle" fill="#444" stroke="#444" stroke-width="0.15" >b</text>
<line x1="140.2" y1="349.5" x2="140.2" y2="359.4" stroke="#555" stroke-width="0.9" stroke-dasharray="1.3,0.8"/>
<text x="140.2" y="349.1" font-family="Liberation Sans, sans-serif" font-size="4.4" font-weight="normal" text-anchor="middle" fill="#444" stroke="#444" stroke-width="0.15" >b</text>
<line x1="153.2" y1="356.5" x2="153.2" y2="366.9" stroke="#555" stroke-width="0.9" stroke-dasharray="1.3,0.8"/>
<line x1="74.6" y1="309.5" x2="74.6" y2="317.5" stroke="#555" stroke-width="0.9" stroke-dasharray="1.3,0.8"/>
<text x="74.6" y="321.7" font-family="Liberation Sans, sans-serif" font-size="4.6" font-weight="normal" text-anchor="middle" fill="#444" stroke="#444" stroke-width="0.16" >a</text>
<line x1="74.3" y1="362" x2="74.3" y2="372" stroke="#555" stroke-width="0.9" stroke-dasharray="1.3,0.8"/>
<line x1="74.3" y1="372" x2="74.3" y2="383" stroke="#555" stroke-width="0.9" stroke-dasharray="1.3,0.8"/>
<line x1="74.3" y1="386" x2="74.3" y2="393" stroke="#555" stroke-width="0.9" stroke-dasharray="1.3,0.8"/>
<line x1="74.3" y1="395" x2="74.3" y2="405" stroke="#555" stroke-width="0.9" stroke-dasharray="1.3,0.8"/>
<line x1="74.3" y1="405" x2="74.3" y2="415" stroke="#555" stroke-width="0.9" stroke-dasharray="1.3,0.8"/>
<line x1="19.9" y1="240.8" x2="19.9" y2="416.7" stroke="#1e1e1e" stroke-width="1.4" />
<line x1="19.2" y1="416.7" x2="266.8" y2="416.7" stroke="#1e1e1e" stroke-width="1.2" />
<line x1="19.9" y1="241.1" x2="21.4" y2="241.1" stroke="#1e1e1e" stroke-width="0.8" />
<line x1="17.3" y1="246.4" x2="19.9" y2="246.4" stroke="#1e1e1e" stroke-width="1" />
<line x1="17.3" y1="275.6" x2="19.9" y2="275.6" stroke="#1e1e1e" stroke-width="1" />
<line x1="17.3" y1="304.8" x2="19.9" y2="304.8" stroke="#1e1e1e" stroke-width="1" />
<line x1="17.3" y1="334" x2="19.9" y2="334" stroke="#1e1e1e" stroke-width="1" />
<line x1="17.3" y1="363.2" x2="19.9" y2="363.2" stroke="#1e1e1e" stroke-width="1" />
<line x1="17.3" y1="392.4" x2="19.9" y2="392.4" stroke="#1e1e1e" stroke-width="1" />
<line x1="31.9" y1="416.7" x2="31.9" y2="419.3" stroke="#1e1e1e" stroke-width="1" />
<line x1="90.5" y1="416.7" x2="90.5" y2="419.3" stroke="#1e1e1e" stroke-width="1" />
<line x1="149.1" y1="416.7" x2="149.1" y2="419.3" stroke="#1e1e1e" stroke-width="1" />
<line x1="207.7" y1="416.7" x2="207.7" y2="419.3" stroke="#1e1e1e" stroke-width="1" />
<line x1="266.3" y1="416.7" x2="266.3" y2="419.3" stroke="#1e1e1e" stroke-width="1" />
<line x1="32.3" y1="306.9" x2="32.3" y2="313.9" stroke="#666" stroke-width="0.6" stroke-dasharray="1,1"/>
<line x1="32.3" y1="362" x2="32.3" y2="369" stroke="#666" stroke-width="0.6" stroke-dasharray="1,1"/>
<line x1="32.3" y1="369.7" x2="32.3" y2="376.7" stroke="#666" stroke-width="0.6" stroke-dasharray="1,1"/>
<line x1="32.3" y1="381.3" x2="32.3" y2="388.3" stroke="#666" stroke-width="0.6" stroke-dasharray="1,1"/>
<line x1="32.3" y1="389.9" x2="32.3" y2="396.9" stroke="#666" stroke-width="0.6" stroke-dasharray="1,1"/>
<line x1="32.3" y1="400.5" x2="32.3" y2="407.5" stroke="#666" stroke-width="0.6" stroke-dasharray="1,1"/>
<line x1="8" y1="243.7" x2="12" y2="243.7" stroke="#444" stroke-width="0.75" />
<line x1="10" y1="241.7" x2="10" y2="245.7" stroke="#444" stroke-width="0.75" />
<path d="M15.3,241.9 l1.8,1.8 l-1.8,1.8 l-1.8,-1.8 Z" fill="#c8c8c8" stroke="#333" stroke-width="0.9"/>
<text x="21.2" y="245.3" font-family="Liberation Sans, sans-serif" font-size="4.8" font-weight="normal" text-anchor="start" fill="#333" stroke="#333" stroke-width="0.17" textLength="29" lengthAdjust="spacingAndGlyphs" >1-OD ERG [RE]</text>
<text x="21" y="424.9" font-family="Liberation Sans, sans-serif" font-size="6.2" font-weight="normal" text-anchor="start" fill="#000" stroke="#000" stroke-width="0.22" textLength="24.4" lengthAdjust="spacingAndGlyphs" >50ms/Div</text>
<text transform="translate(9.9,414.6) rotate(-90)" font-family="Liberation Sans, sans-serif" font-size="5" text-anchor="start" fill="#333" stroke="#333" stroke-width="0.12" textLength="13.9" lengthAdjust="spacingAndGlyphs">100µV</text>
<text transform="translate(15.7,414.6) rotate(-90)" font-family="Liberation Sans, sans-serif" font-size="5" text-anchor="start" fill="#333" stroke="#333" stroke-width="0.12" textLength="5.4" lengthAdjust="spacingAndGlyphs">Div</text>
<polyline points="20,498.8 21.25,498.74 22.5,498.85 23.75,498.41 25,498.51 26.25,498.48 27.5,498.68 28.75,499.02 30,498.5 31.25,498.23 32.5,498.84 33.75,498.05 35,498.57 36.25,498.49 37.5,498.37 38.75,498.39 40,498.4 41.25,498.32 42.5,498.85 43.75,498.25 45,499.16 46.25,498.67 47.5,498.9 48.75,498.98 50,499 51.22,498.73 52.44,498.78 53.67,499.16 54.89,498.66 56.11,498.84 57.33,499.25 58.56,499.07 59.78,499.55 61,499.3 62.33,499.17 63.67,499.18 65,499.36 66.33,499.79 67.67,499.74 69,499.6 70.2,499.94 71.4,500.86 72.6,500.48 73.8,501.07 75,501.8 76.57,500.47 78.13,499.68 79.7,499.2 81.8,497.6 83.4,495.51 85,493 86.75,490.6 88.5,487.6 90,484.58 91.5,482.44 93,480 94.53,477.78 96.07,475.5 97.6,473 98.87,471.02 100.14,469.52 101.41,467.59 102.69,465.42 103.96,463.47 105.23,461.54 106.5,460 108.25,456.73 110,453.5 111.23,451.08 112.47,449.78 113.7,447.3 114.95,446.58 116.2,446.4 117.43,447.24 118.67,447.25 119.9,447.3 121.13,446.79 122.37,446.9 123.6,446.1 124.84,445.86 126.08,444.83 127.32,444.17 128.56,443.08 129.8,443 131.03,443.7 132.27,444.27 133.5,444.2 135,445.58 136.5,446.1 138.05,445.55 139.6,445.2 140.85,445.43 142.1,445.66 143.35,445.99 144.6,446.7 145.82,447.09 147.05,447.77 148.28,447.6 149.5,448.5 150.73,448.59 151.97,449.15 153.2,449.34 154.43,450.25 155.67,449.78 156.9,450.6 158.14,451.14 159.38,452.65 160.62,453.06 161.86,454.42 163.1,454.7 164.34,455.32 165.58,455.93 166.82,456.88 168.06,457.67 169.3,457.8 170.52,459.08 171.74,459.55 172.96,460.13 174.18,461.23 175.4,461.5 176.93,462.75 178.47,463.38 180,464 181.27,465.16 182.53,466.59 183.8,467.53 185.07,468.69 186.33,470.29 187.6,471.1 188.87,472.03 190.14,473.5 191.41,475.14 192.69,477.06 193.96,477.5 195.23,478.93 196.5,480.8 197.76,482.11 199.01,483.48 200.27,484.77 201.53,484.89 202.79,486.45 204.04,487.36 205.3,488.8 206.7,489.94 208.1,490.25 209.5,491.33 210.9,491.24 212.3,492.3 213.62,493.31 214.95,494.85 216.28,496.55 217.6,497.6 218.86,497.93 220.11,497.92 221.37,498.48 222.63,498.6 223.89,498.51 225.14,499.27 226.4,499 227.67,499.63 228.94,500.1 230.21,500.99 231.49,501.82 232.76,502.09 234.03,503.05 235.3,503.2 236.6,503.18 237.9,501.96 239.2,501.74 240.5,501.1 242.3,502.05 244.1,502.5 245.85,501.71 247.6,500.2 249.02,499.79 250.44,500.02 251.86,498.81 253.28,498.45 254.7,498.5 256.45,497.69 258.2,497.6 259.95,494.64 261.7,492.7 263.2,492.47 264.7,493.2" fill="none" stroke="#cc30dc" stroke-width="1.4" stroke-linejoin="round" stroke-linecap="round" />
<polyline points="20,553.2 21.25,553.13 22.5,553.08 23.75,553.04 25,552.95 26.25,553.48 27.5,553 28.75,553.12 30,552.9 31.25,553.08 32.5,553.18 33.75,552.32 35,552.96 36.25,552.66 37.5,552.53 38.75,551.86 40,552.3 41.25,552.02 42.5,552.65 43.75,552.57 45,552.52 46.25,552.5 47.5,552.5 48.75,553.3 50,552.9 51.25,553.33 52.5,553.77 53.75,553.12 55,554.04 56.25,553.54 57.5,553.7 58.75,554.26 60,554.4 61.2,553.67 62.4,553.66 63.6,553.86 64.8,553.17 66,553.41 67.2,553 68.53,553.81 69.87,553.8 71.2,554.14 72.53,554.31 73.87,554.69 75.2,555.3 76.7,554.74 78.2,553.49 79.7,552.7 81.5,551.44 83.3,549.1 84.5,547.4 85.7,545.99 86.9,543.7 88.65,541.53 90.4,538.3 91.75,536 93.1,534.37 94.45,532.07 95.8,529.4 97.15,526.98 98.5,525.21 99.85,523.17 101.2,520.4 102.53,517.64 103.85,516.15 105.17,514 106.5,511.5 108.25,508.37 110,504.3 111.24,504.07 112.48,502.87 113.72,502.52 114.96,501.86 116.2,501.2 117.43,501.73 118.67,501.2 119.9,501.2 121.12,501.89 122.35,501.66 123.58,501.9 124.8,502.4 126.04,501.94 127.28,500.61 128.52,500.09 129.76,499.41 131,499.3 132.23,500.52 133.47,501.61 134.7,503.4 135.92,503.35 137.15,502.97 138.38,503.04 139.6,503 140.85,503.25 142.1,503.9 143.35,504.11 144.6,504.3 145.82,505.47 147.05,505.89 148.28,506.13 149.5,507.3 150.73,506.87 151.97,506.89 153.2,506.7 154.43,507.34 155.67,507.89 156.9,508 158.14,509.38 159.38,509.18 160.62,510.15 161.86,511.85 163.1,512.3 164.32,513.92 165.55,514.63 166.78,515.97 168,516.6 169.23,517.97 170.47,518.75 171.7,519.7 172.95,518.75 174.2,518.5 175.65,519.83 177.1,520.87 178.55,522.52 180,523.4 181.24,524.12 182.49,524.89 183.73,526.25 184.97,527.24 186.21,527.92 187.46,529.44 188.7,529.9 190.03,531.09 191.36,532.06 192.69,532.7 194.01,534.15 195.34,535.34 196.67,536.58 198,537.4 199.34,538.18 200.69,539.32 202.03,540.22 203.37,541.91 204.71,542.44 206.06,543.97 207.4,544.9 208.73,545.83 210.06,546.29 211.39,546.98 212.71,548.33 214.04,548.37 215.37,550 216.7,550.5 217.97,552.22 219.23,552.79 220.5,554.2 221.9,553.6 223.3,552.51 224.7,551.44 226.1,550.5 227.33,551.47 228.57,552.52 229.8,553.3 231.37,556.28 232.93,558.66 234.5,560.7 236.07,559.16 237.63,556.67 239.2,555.1 240.43,554.31 241.67,553.68 242.9,554.05 244.13,553.3 245.37,552.51 246.6,552.3 248,553.1 249.4,553.81 250.8,554.6 252.2,555.1 253.62,554.31 255.05,553.28 256.47,553.01 257.9,552.3 259.3,549.86 260.7,547.92 262.1,545.58 263.5,543.9" fill="none" stroke="#c83434" stroke-width="1.4" stroke-linejoin="round" stroke-linecap="round" />
<polyline points="20,566.1 21.25,566.31 22.5,565.86 23.75,566.23 25,565.44 26.25,566.07 27.5,565.88 28.75,565.24 30,565.09 31.25,565.1 32.5,565.26 33.75,564.69 35,564.31 36.25,564.31 37.5,564.69 38.75,564.18 40,564.3 41.25,564.2 42.5,564.54 43.75,563.75 45,564.24 46.25,563.89 47.5,564.3 48.75,563.71 50,564.02 51.25,563.93 52.5,563.24 53.75,563.34 55,563.79 56.25,563.96 57.5,563.06 58.75,563.32 60,563.4 61.2,563.97 62.4,563.6 63.6,563.87 64.8,564.27 66,564.61 67.2,564.3 68.53,564.94 69.87,564.8 71.2,564.61 72.53,564.99 73.87,565.4 75.2,565.2 76.7,565.14 78.2,564.41 79.7,563.4 81.05,562.51 82.4,560.26 83.75,559.02 85.1,558 86.42,555.36 87.75,553.61 89.08,550.95 90.4,549.1 91.75,546.95 93.1,544.91 94.45,542.46 95.8,540.1 97.15,537.89 98.5,536.05 99.85,532.96 101.2,531.2 102.53,529.86 103.85,527.59 105.17,526.31 106.5,524 108.25,520.41 110,517.8 111.22,517.16 112.45,515.87 113.68,515.52 114.9,514.1 116.15,514.33 117.4,514.86 118.65,514.63 119.9,514.8 121.12,513.91 122.34,513.24 123.56,511.61 124.78,510.44 126,509.6 127.25,509.78 128.5,510.14 129.75,511.1 131,511 132.24,511.78 133.48,511.77 134.72,511.99 135.96,511.54 137.2,512.3 138.42,512.04 139.65,511.97 140.88,511.52 142.1,511.7 143.32,511.68 144.55,512.55 145.78,513.1 147,513.5 148.24,514.13 149.48,514.31 150.72,514.66 151.96,515.05 153.2,515.4 154.43,515.58 155.67,514.47 156.9,514.8 158.14,515.48 159.38,516.34 160.62,516.97 161.86,517.79 163.1,518.5 164.34,518.85 165.58,519.44 166.82,519.79 168.06,520.63 169.3,521.5 170.52,522.53 171.74,523.81 172.96,524.66 174.18,525.28 175.4,525.9 176.93,526.09 178.47,527.54 180,527.7 181.24,528.94 182.49,529.67 183.73,531.06 184.97,533.04 186.21,534.44 187.46,535.39 188.7,536.4 190.03,537.68 191.36,538.25 192.69,539.38 194.01,540.91 195.34,541.23 196.67,543.23 198,543.9 199.34,545.4 200.69,546.15 202.03,546.98 203.37,548.47 204.71,549.77 206.06,550.79 207.4,552.3 208.73,554.05 210.06,555.72 211.39,556.81 212.71,557.98 214.04,559.44 215.37,561.6 216.7,562.6 218.04,562.43 219.39,563.22 220.73,563.06 222.07,563.42 223.41,564.34 224.76,563.89 226.1,564.5 227.5,565.45 228.9,567.38 230.3,568.24 231.7,569.2 232.93,568.43 234.17,566.67 235.4,565.4 236.65,566.42 237.9,567.13 239.15,567.54 240.4,568.54 241.65,569.74 242.9,570.1 244.15,569.32 245.4,568.39 246.65,567.95 247.9,566.62 249.15,565.99 250.4,565.4 251.65,564.96 252.9,564.67 254.15,563.31 255.4,562.94 256.65,561.85 257.9,561.7 259.2,561.23 260.5,560.74 261.8,559.74 263.1,559.53 264.4,558.9" fill="none" stroke="#50dede" stroke-width="1.4" stroke-linejoin="round" stroke-linecap="round" />
<polyline points="20,580.5 21.25,580.05 22.5,579.32 23.75,579.44 25,579.11 26.25,578.29 27.5,577.82 28.75,577.1 30,576.7 31.25,576.39 32.5,577.09 33.75,577 35,576.06 36.25,576.74 37.5,576.77 38.75,575.92 40,576.1 41.25,575.8 42.5,576.06 43.75,575.77 45,575.25 46.25,575.49 47.5,575.88 48.75,575.06 50,574.89 51.25,574.81 52.5,574.77 53.75,574.81 55,574.72 56.25,574.94 57.5,574.51 58.75,574 60,574.1 61.2,574.3 62.4,573.66 63.6,573.85 64.8,573.48 66,573.02 67.2,573.2 68.53,574.32 69.85,574.35 71.17,575.22 72.5,575.9 73.85,575.71 75.2,574.13 76.55,574.21 77.9,573.2 79.25,572.27 80.6,571.45 81.95,570.35 83.3,568.8 84.62,566.85 85.95,565.24 87.27,564.52 88.6,562.5 89.95,560.05 91.3,557.7 92.65,555.22 94,552.7 95.35,550.21 96.7,548.47 98.05,545.86 99.4,543.7 100.75,541.2 102.1,539.69 103.45,537.39 104.8,534.8 106.1,532.2 107.4,529.35 108.7,527.1 110,524.6 111.23,523.9 112.47,522.5 113.7,521.5 114.94,521.99 116.18,522.1 117.42,521.91 118.66,521.81 119.9,522.4 121.12,522.41 122.34,521.75 123.56,521.21 124.78,521 126,520.9 127.25,520.37 128.5,519.42 129.75,519.11 131,518.2 132.25,519.28 133.5,520.9 134.72,521.27 135.95,522.64 137.18,523.6 138.4,524 139.62,523.76 140.85,523.43 142.08,522.98 143.3,522.8 144.55,523.92 145.8,524.85 147.05,525.32 148.3,525.9 149.53,526.41 150.77,526.3 152,527.26 153.23,527.05 154.47,527.32 155.7,527.7 156.94,528.32 158.18,528.97 159.42,528.67 160.66,530.11 161.9,530.2 163.13,531.23 164.37,531.67 165.6,532.55 166.83,532.55 168.07,533.75 169.3,534.5 170.53,535.51 171.75,537.01 172.97,538.72 174.2,539.4 175.65,540.54 177.1,541.2 178.55,542.63 180,543.1 181.24,544.95 182.49,546.64 183.73,548.21 184.97,549.16 186.21,551.46 187.46,552.08 188.7,554.2 190.03,555.46 191.36,556.82 192.69,558.55 194.01,560.04 195.34,560.9 196.67,562.01 198,563.6 199.34,564.99 200.69,565.93 202.03,566.84 203.37,567.98 204.71,568.54 206.06,569.41 207.4,571 208.7,571.02 210,570.05 211.3,570.54 212.6,569.49 213.9,569.5 215.47,571.97 217.03,574.02 218.6,576.6 219.85,576.59 221.1,576.75 222.35,577.68 223.6,577.45 224.85,578.15 226.1,578.5 227.3,578.43 228.5,578.51 229.7,579.8 230.9,579.08 232.1,580.4 233.3,579.83 234.5,580.4 235.8,580.34 237.1,579.71 238.4,578.73 239.7,577.9 241,577.6 242.27,578.75 243.53,580.99 244.8,582.2 246.2,580.8 247.6,578.53 249,577.21 250.4,575.7 251.65,576.47 252.9,576.85 254.15,576.14 255.4,576.77 256.65,577.65 257.9,577.6 259.13,574.76 260.37,571.33 261.6,568.2 263,571.55 264.4,575.7" fill="none" stroke="#25259c" stroke-width="1.4" stroke-linejoin="round" stroke-linecap="round" />
<polyline points="20,585.5 21.25,585.06 22.5,585.82 23.75,585.27 25,585.78 26.25,585.54 27.5,586.02 28.75,585.67 30,585.8 31.25,586.16 32.5,585.54 33.75,585.56 35,586.28 36.25,585.36 37.5,586.32 38.75,585.8 40,585.8 41.25,586.16 42.5,586.63 43.75,587.12 45,587.52 46.25,587.64 47.5,587.37 48.75,588.25 50,588.5 51.25,588.12 52.5,588.69 53.75,588.73 55,588.86 56.25,588.84 57.5,588.69 58.75,588.95 60,589.4 61.2,589.06 62.4,589.12 63.6,588.87 64.8,588.6 66,588.29 67.2,587.6 68.44,588.51 69.68,588.61 70.92,589.07 72.16,589.36 73.4,590.3 74.9,591.57 76.4,592.23 77.9,593.8 79.25,593.05 80.6,591.76 81.95,590.76 83.3,590.3 84.62,588.08 85.95,585.61 87.27,583.75 88.6,581.3 89.95,578.48 91.3,575.85 92.65,572.87 94,570.6 95.35,568.37 96.7,565.99 98.05,563.47 99.4,561.6 100.75,559.29 102.1,557.65 103.45,555.08 104.8,552.7 106.1,549.02 107.4,545.46 108.7,541.87 110,538.2 111.22,537.55 112.45,536.28 113.68,535.08 114.9,533.9 116.15,533.69 117.4,533.68 118.65,533.5 119.9,532.7 121.13,532.5 122.37,532.22 123.6,532 124.83,531.28 126.07,530.44 127.3,529 128.53,529.32 129.77,529.01 131,528.72 132.23,529.05 133.47,528.82 134.7,529 135.93,528.89 137.17,528.92 138.4,529.22 139.63,529.18 140.87,529.26 142.1,529.6 143.34,530.05 144.58,530.19 145.82,531.16 147.06,532.06 148.3,532 149.53,531.87 150.77,532.52 152,533.79 153.23,533.58 154.47,534.23 155.7,534.5 156.94,535.5 158.18,535.56 159.42,536.59 160.66,537 161.9,537.6 163.13,538.06 164.37,538.78 165.6,539.08 166.83,539.6 168.07,540.39 169.3,541.3 170.52,541.42 171.74,542.02 172.96,543.15 174.18,543.27 175.4,543.8 176.93,544.83 178.47,546.33 180,548.1 181.24,548.88 182.49,549.92 183.73,551.45 184.97,552.5 186.21,553.9 187.46,554.6 188.7,556.1 190.03,556.96 191.36,558.45 192.69,560.24 194.01,561.69 195.34,562.23 196.67,564.57 198,565.4 199.34,566.25 200.69,567.76 202.03,569.51 203.37,570.52 204.71,571.64 206.06,573.15 207.4,574.8 208.73,575.29 210.06,576.05 211.39,577.67 212.71,578.5 214.04,579.15 215.37,580.07 216.7,580.4 218.04,581.19 219.39,581.46 220.73,582.44 222.07,583.04 223.41,583.53 224.76,584.43 226.1,585 227.43,586.05 228.76,586.54 230.09,587.86 231.41,589.21 232.74,590.13 234.07,590.33 235.4,591.6 236.8,590.39 238.2,589.88 239.6,590 241,588.8 242.57,586.56 244.13,584.4 245.7,582.2 247.6,588.8 248.9,589.06 250.2,588.76 251.5,588.29 252.8,588.24 254.1,587.9 255.39,587.26 256.68,585.56 257.96,584.57 259.25,584.09 260.54,582.7 261.82,581.06 263.11,580.91 264.4,579.4" fill="none" stroke="#cc30dc" stroke-width="1.4" stroke-linejoin="round" stroke-linecap="round" />
<rect x="61.2" y="497.2" width="28.2" height="29.1" stroke="#d688e4" stroke-width="1.1" fill="none"/>
<line x1="118.6" y1="436.4" x2="170.1" y2="436.4" stroke="#e07f6a" stroke-width="1.1" />
<line x1="118.6" y1="448.2" x2="170.1" y2="448.2" stroke="#9ee8e8" stroke-width="1.2" />
<line x1="118.6" y1="457.4" x2="170.1" y2="457.4" stroke="#5a5ad0" stroke-width="1" />
<line x1="118.6" y1="470.5" x2="170.1" y2="470.5" stroke="#e08ae8" stroke-width="1.2" />
<line x1="118.6" y1="475.3" x2="170.1" y2="475.3" stroke="#e08ae8" stroke-width="1.2" />
<line x1="118.6" y1="524.4" x2="170.1" y2="524.4" stroke="#e0907a" stroke-width="1.1" />
<line x1="118.6" y1="536.1" x2="170.1" y2="536.1" stroke="#a8ecec" stroke-width="1.2" />
<line x1="118.6" y1="545.2" x2="170.1" y2="545.2" stroke="#5a5ad0" stroke-width="1" />
<line x1="118.6" y1="562.7" x2="170.1" y2="562.7" stroke="#cc30dc" stroke-width="1.2" />
<line x1="61.2" y1="550.9" x2="89.2" y2="550.9" stroke="#e07070" stroke-width="1" />
<line x1="61.2" y1="562.5" x2="89.2" y2="562.5" stroke="#8ee8ee" stroke-width="1.2" />
<line x1="61.2" y1="573.2" x2="89.2" y2="573.2" stroke="#5a5ad0" stroke-width="1" />
<line x1="61.2" y1="579.5" x2="89.2" y2="579.5" stroke="#e0907a" stroke-width="1.2" />
<line x1="61.2" y1="584.9" x2="89.2" y2="584.9" stroke="#e890ee" stroke-width="1.2" />
<line x1="61.2" y1="591.1" x2="89.2" y2="591.1" stroke="#8ee8ee" stroke-width="1.4" />
<line x1="118.6" y1="426.7" x2="118.6" y2="562.7" stroke="#cc30dc" stroke-width="1" />
<line x1="170.1" y1="426.7" x2="170.1" y2="562.7" stroke="#c77ee3" stroke-width="1.2" />
<line x1="118.6" y1="470.5" x2="118.6" y2="475.3" stroke="#5a5ad0" stroke-width="1" />
<line x1="170.1" y1="470.5" x2="170.1" y2="475.3" stroke="#5a5ad0" stroke-width="1" />
<line x1="61.2" y1="550.9" x2="61.2" y2="562.5" stroke="#e07070" stroke-width="1.1" />
<line x1="61.2" y1="562.5" x2="61.2" y2="573.2" stroke="#8ee8ee" stroke-width="1.1" />
<line x1="61.2" y1="573.2" x2="61.2" y2="579.5" stroke="#7070d0" stroke-width="1.1" />
<line x1="61.2" y1="579.5" x2="61.2" y2="602" stroke="#cc44dc" stroke-width="1.2" />
<line x1="89.2" y1="550.9" x2="89.2" y2="562.5" stroke="#e89a9a" stroke-width="1" />
<line x1="89.2" y1="562.5" x2="89.2" y2="573.2" stroke="#a8ecec" stroke-width="1" />
<line x1="89.2" y1="573.2" x2="89.2" y2="579.5" stroke="#8a8ad8" stroke-width="1" />
<line x1="89.2" y1="579.5" x2="89.2" y2="602" stroke="#d070e0" stroke-width="1.1" />
<text x="21" y="499.9" font-family="Liberation Sans, sans-serif" font-size="4.3" font-weight="normal" text-anchor="start" fill="#444" stroke="#444" stroke-width="0.15" textLength="17.5" lengthAdjust="spacingAndGlyphs" >2-1 SA(LE)</text>
<text x="21" y="554.3" font-family="Liberation Sans, sans-serif" font-size="4.3" font-weight="normal" text-anchor="start" fill="#444" stroke="#444" stroke-width="0.15" textLength="14" lengthAdjust="spacingAndGlyphs" >2-2 (LE)</text>
<text x="21" y="566.3" font-family="Liberation Sans, sans-serif" font-size="4.3" font-weight="normal" text-anchor="start" fill="#444" stroke="#444" stroke-width="0.15" textLength="14" lengthAdjust="spacingAndGlyphs" >2-3 (LE)</text>
<text x="21" y="576.9" font-family="Liberation Sans, sans-serif" font-size="4.3" font-weight="normal" text-anchor="start" fill="#444" stroke="#444" stroke-width="0.15" textLength="14" lengthAdjust="spacingAndGlyphs" >2-4 (LE)</text>
<text x="21" y="586.8" font-family="Liberation Sans, sans-serif" font-size="4.3" font-weight="normal" text-anchor="start" fill="#444" stroke="#444" stroke-width="0.15" textLength="14" lengthAdjust="spacingAndGlyphs" >2-5 (LE)</text>
<line x1="129.8" y1="438" x2="129.8" y2="447.9" stroke="#555" stroke-width="0.9" stroke-dasharray="1.3,0.8"/>
<text x="129.8" y="437.6" font-family="Liberation Sans, sans-serif" font-size="4.4" font-weight="normal" text-anchor="middle" fill="#444" stroke="#444" stroke-width="0.15" >b</text>
<line x1="131" y1="495.5" x2="131" y2="503.6" stroke="#555" stroke-width="0.9" stroke-dasharray="1.3,0.8"/>
<line x1="139.6" y1="503" x2="139.6" y2="513.5" stroke="#555" stroke-width="0.9" stroke-dasharray="1.3,0.8"/>
<text x="139.6" y="502.6" font-family="Liberation Sans, sans-serif" font-size="4.4" font-weight="normal" text-anchor="middle" fill="#444" stroke="#444" stroke-width="0.15" >b</text>
<line x1="130" y1="511.5" x2="130" y2="518.5" stroke="#555" stroke-width="0.9" stroke-dasharray="1.3,0.8"/>
<text x="130" y="511.1" font-family="Liberation Sans, sans-serif" font-size="4.4" font-weight="normal" text-anchor="middle" fill="#444" stroke="#444" stroke-width="0.15" >b</text>
<line x1="134.5" y1="521.5" x2="134.5" y2="528" stroke="#555" stroke-width="0.9" stroke-dasharray="1.3,0.8"/>
<text x="134.5" y="521.1" font-family="Liberation Sans, sans-serif" font-size="4.4" font-weight="normal" text-anchor="middle" fill="#444" stroke="#444" stroke-width="0.15" >b</text>
<line x1="133.5" y1="527" x2="133.5" y2="532.7" stroke="#555" stroke-width="0.9" stroke-dasharray="1.3,0.8"/>
<line x1="75.3" y1="501.5" x2="75.3" y2="506.5" stroke="#555" stroke-width="0.9" stroke-dasharray="1.3,0.8"/>
<text x="75.3" y="510.7" font-family="Liberation Sans, sans-serif" font-size="4.6" font-weight="normal" text-anchor="middle" fill="#444" stroke="#444" stroke-width="0.16" >a</text>
<line x1="75.5" y1="550" x2="75.5" y2="558" stroke="#555" stroke-width="0.9" stroke-dasharray="1.3,0.8"/>
<line x1="75.5" y1="560" x2="75.5" y2="569" stroke="#555" stroke-width="0.9" stroke-dasharray="1.3,0.8"/>
<line x1="75.5" y1="572" x2="75.5" y2="580" stroke="#555" stroke-width="0.9" stroke-dasharray="1.3,0.8"/>
<line x1="75.5" y1="586" x2="75.5" y2="600" stroke="#555" stroke-width="0.9" stroke-dasharray="1.3,0.8"/>
<line x1="19.9" y1="428.2" x2="19.9" y2="602" stroke="#1e1e1e" stroke-width="1.4" />
<line x1="19.2" y1="602" x2="266.8" y2="602" stroke="#1e1e1e" stroke-width="1.2" />
<line x1="19.9" y1="428.5" x2="21.4" y2="428.5" stroke="#1e1e1e" stroke-width="0.8" />
<line x1="17.3" y1="432.6" x2="19.9" y2="432.6" stroke="#1e1e1e" stroke-width="1" />
<line x1="17.3" y1="461.4" x2="19.9" y2="461.4" stroke="#1e1e1e" stroke-width="1" />
<line x1="17.3" y1="490.2" x2="19.9" y2="490.2" stroke="#1e1e1e" stroke-width="1" />
<line x1="17.3" y1="519" x2="19.9" y2="519" stroke="#1e1e1e" stroke-width="1" />
<line x1="17.3" y1="548" x2="19.9" y2="548" stroke="#1e1e1e" stroke-width="1" />
<line x1="17.3" y1="577" x2="19.9" y2="577" stroke="#1e1e1e" stroke-width="1" />
<line x1="31.9" y1="602" x2="31.9" y2="604.6" stroke="#1e1e1e" stroke-width="1" />
<line x1="90.5" y1="602" x2="90.5" y2="604.6" stroke="#1e1e1e" stroke-width="1" />
<line x1="149.1" y1="602" x2="149.1" y2="604.6" stroke="#1e1e1e" stroke-width="1" />
<line x1="207.7" y1="602" x2="207.7" y2="604.6" stroke="#1e1e1e" stroke-width="1" />
<line x1="266.3" y1="602" x2="266.3" y2="604.6" stroke="#1e1e1e" stroke-width="1" />
<line x1="8" y1="428.8" x2="12" y2="428.8" stroke="#444" stroke-width="0.75" />
<line x1="10" y1="426.8" x2="10" y2="430.8" stroke="#444" stroke-width="0.75" />
<path d="M15.8,427 l1.8,1.8 l-1.8,1.8 l-1.8,-1.8 Z" fill="#c8c8c8" stroke="#333" stroke-width="0.9"/>
<text x="21.4" y="430.4" font-family="Liberation Sans, sans-serif" font-size="4.8" font-weight="normal" text-anchor="start" fill="#333" stroke="#333" stroke-width="0.17" textLength="28" lengthAdjust="spacingAndGlyphs" >2-OS ERG [LE]</text>
<line x1="32.3" y1="495" x2="32.3" y2="502" stroke="#666" stroke-width="0.6" stroke-dasharray="1,1"/>
<line x1="32.3" y1="549.5" x2="32.3" y2="556.5" stroke="#666" stroke-width="0.6" stroke-dasharray="1,1"/>
<line x1="32.3" y1="561.5" x2="32.3" y2="568.5" stroke="#666" stroke-width="0.6" stroke-dasharray="1,1"/>
<line x1="32.3" y1="572.5" x2="32.3" y2="579.5" stroke="#666" stroke-width="0.6" stroke-dasharray="1,1"/>
<line x1="32.3" y1="582.3" x2="32.3" y2="589.3" stroke="#666" stroke-width="0.6" stroke-dasharray="1,1"/>
<text x="20.8" y="610.2" font-family="Liberation Sans, sans-serif" font-size="6.2" font-weight="normal" text-anchor="start" fill="#000" stroke="#000" stroke-width="0.22" textLength="24.8" lengthAdjust="spacingAndGlyphs" >50ms/Div</text>
<text transform="translate(10.6,600.2) rotate(-90)" font-family="Liberation Sans, sans-serif" font-size="5" text-anchor="start" fill="#333" stroke="#333" stroke-width="0.12" textLength="13.9" lengthAdjust="spacingAndGlyphs">100µV</text>
<text transform="translate(16.4,600.2) rotate(-90)" font-family="Liberation Sans, sans-serif" font-size="5" text-anchor="start" fill="#333" stroke="#333" stroke-width="0.12" textLength="5.4" lengthAdjust="spacingAndGlyphs">Div</text>
<line x1="308.5" y1="227.6" x2="308.5" y2="410.6" stroke="#b474d0" stroke-width="1.2" />
<line x1="312.9" y1="227.6" x2="312.9" y2="410.6" stroke="#de8cef" stroke-width="1.6" />
<line x1="323.8" y1="242.3" x2="330" y2="242.3" stroke="#60d060" stroke-width="1" />
<line x1="322" y1="277.6" x2="331.2" y2="277.6" stroke="#e06a6a" stroke-width="1" />
<line x1="322" y1="297.3" x2="331.2" y2="297.3" stroke="#4848c0" stroke-width="1" />
<line x1="323" y1="309.3" x2="331.2" y2="309.3" stroke="#7ae6ee" stroke-width="1" />
<line x1="322" y1="326.5" x2="331.2" y2="326.5" stroke="#4848c0" stroke-width="1" />
<line x1="322" y1="346.7" x2="331.2" y2="346.7" stroke="#4848c0" stroke-width="1" />
<line x1="322" y1="375.8" x2="331.2" y2="375.8" stroke="#e070ec" stroke-width="1.1" />
<line x1="322.1" y1="227.6" x2="322.1" y2="257.6" stroke="#e06a6a" stroke-width="1" />
<line x1="331.1" y1="227.6" x2="331.1" y2="257.6" stroke="#e06a6a" stroke-width="1" />
<line x1="322.1" y1="257.6" x2="322.1" y2="297.3" stroke="#7ae6ee" stroke-width="1" />
<line x1="331.1" y1="257.6" x2="331.1" y2="297.3" stroke="#7ae6ee" stroke-width="1" />
<line x1="322.1" y1="297.3" x2="322.1" y2="326.5" stroke="#4848c0" stroke-width="1" />
<line x1="331.1" y1="297.3" x2="331.1" y2="326.5" stroke="#4848c0" stroke-width="1" />
<line x1="322.1" y1="326.5" x2="322.1" y2="375.8" stroke="#e070ec" stroke-width="1.1" />
<line x1="331.1" y1="326.5" x2="331.1" y2="375.8" stroke="#e070ec" stroke-width="1.1" />
<line x1="322.1" y1="228.4" x2="331.1" y2="228.4" stroke="#e06a6a" stroke-width="1" />
<polyline points="301.5,251.5 302.95,252.28 304.4,253.2 305.57,253.96 306.73,255.09 307.9,255.9 309.1,255.55 310.3,255.19 311.5,255 312.6,255.41 313.7,255.56 314.8,256.77 315.9,256.7 317.07,256.48 318.23,257.07 319.4,256.4 320.5,256.49 321.6,256.84 322.7,257.22 323.8,256.7 324.9,256.04 326,255.62 327.1,254.31 328.2,253.6 329.2,252.48 330.2,251.61 331.2,251.5 332.27,251.19 333.33,251.26 334.4,250.6 335.7,253.24 337,255 338.1,254.42 339.2,254.67 340.3,254.22 341.4,254.1 342.5,254.58 343.6,256.4 344.7,256.36 345.8,257.6 346.93,257.74 348.05,256.76 349.18,256.46 350.3,256.7 351.34,256.48 352.38,257.6 353.42,258.14 354.46,258.18 355.5,258.5 356.56,258.12 357.62,257.59 358.68,256.6 359.74,256.99 360.8,255.9 362.15,253.86 363.5,252.3 364.8,253.93 366.1,255 367.3,254.32 368.5,254.35 369.7,253.2 370.87,254.15 372.03,256.06 373.2,257.6 374.37,255.94 375.53,253.47 376.7,251.5 377.9,254.18 379.1,257.8 380.17,258 381.23,258.58 382.3,258.6 383.32,257.4 384.35,256.78 385.38,256.57 386.4,255.3 387.4,255.66 388.4,256.8 389.4,258.61 390.4,259.1 391.65,257.14 392.9,256.1 393.97,257.25 395.03,257.68 396.1,257.8 397.35,255.53 398.6,253.7 399.8,251.5 401,250.4 402.02,250.68 403.05,250.63 404.08,251.21 405.1,251.3" fill="none" stroke="#45cf45" stroke-width="1.4" stroke-linejoin="round" stroke-linecap="round" />
<polyline points="301.5,285.8 302.57,286.35 303.63,286.57 304.7,287.25 305.77,287.11 306.83,287.87 307.9,288.5 309.1,288.03 310.3,286.16 311.5,285.8 312.6,286.97 313.7,287.77 314.8,289.56 315.9,290.6 317,289.78 318.1,288.38 319.2,288.13 320.3,286.7 321.47,287.15 322.63,288.79 323.8,289.4 324.9,288.34 326,287.5 327.1,286.61 328.2,285 329.3,284.33 330.4,283.39 331.5,281.82 332.6,281.1 333.66,282.08 334.72,281.86 335.78,282.64 336.84,283.21 337.9,283.2 338.96,283.36 340.02,284.49 341.08,285.13 342.14,285.14 343.2,285.8 344.37,284.89 345.53,284.84 346.7,284.1 347.76,285.21 348.82,286.24 349.88,287.51 350.94,288.34 352,289.9 353.06,289.07 354.12,288.63 355.18,287.66 356.24,287.09 357.3,286.7 358.47,287.49 359.63,288.75 360.8,290.3 361.81,289.32 362.83,287.91 363.84,286.72 364.86,286.03 365.87,284.92 366.89,284.3 367.9,283.2 368.96,283.62 370.02,284.45 371.08,285.12 372.14,285.55 373.2,286.7 374.22,286.74 375.24,286.1 376.26,286.21 377.28,285.91 378.3,286.2 379.3,287.36 380.3,288.93 381.3,290.57 382.3,291.9 383.52,291.79 384.75,291.23 385.98,290.23 387.2,289.5 388.34,289.71 389.48,290.41 390.62,290.01 391.76,290.19 392.9,291.1 393.97,291.53 395.03,291.92 396.1,292.2 397.35,289.35 398.6,287 399.83,286.6 401.05,285.26 402.27,284.14 403.5,283.5 405.1,285.4" fill="none" stroke="#c83434" stroke-width="1.4" stroke-linejoin="round" stroke-linecap="round" />
<polyline points="301.5,318.5 302.52,318.96 303.55,318.41 304.57,319.06 305.6,319.3 306.62,319.77 307.65,320.05 308.68,319.98 309.7,320.3 310.87,321.41 312.03,321.88 313.2,322.9 314.37,322.32 315.53,320.8 316.7,320.3 317.76,320.89 318.82,321.3 319.88,322.97 320.94,323.49 322,323.8 323.06,322.95 324.12,323.31 325.18,322.54 326.24,322.31 327.3,322 328.6,320.23 329.9,319.59 331.2,318.5 332.27,318.44 333.33,316.86 334.4,316.8 335.4,317.18 336.4,317.36 337.4,317.47 338.4,318.5 339.4,318.87 340.4,318.73 341.4,319.4 342.41,319.79 343.43,319.57 344.44,318.46 345.46,318.38 346.47,318.34 347.49,319.09 348.5,318.5 349.6,318.55 350.7,319.87 351.8,319.85 352.9,320.91 354,321.06 355.1,321.34 356.2,322.39 357.3,322.9 358.31,322.47 359.33,321.42 360.34,321.17 361.36,320.05 362.37,319.32 363.39,318.2 364.4,317.6 365.57,317.72 366.73,319.11 367.9,319.4 368.96,318.63 370.02,318.6 371.08,318.26 372.14,318.15 373.2,317.6 374.26,318 375.32,318.2 376.38,319.42 377.44,319.3 378.5,320.3 379.77,319.5 381.03,318.41 382.3,317.9 383.32,319.73 384.35,321.28 385.38,322.96 386.4,325.2 387.6,323.74 388.8,321.2 389.82,321.13 390.85,321.65 391.88,322.29 392.9,322 393.97,322.14 395.03,321.57 396.1,320.9 397.2,321.19 398.3,321.69 399.4,322.8 400.6,321.24 401.8,318.7 402.9,318.49 404,317.6 405.1,316.3" fill="none" stroke="#50dede" stroke-width="1.4" stroke-linejoin="round" stroke-linecap="round" />
<polyline points="301.5,355.2 302.57,354.99 303.63,355.74 304.7,355.61 305.77,355.46 306.83,356.27 307.9,356.4 309.1,357.64 310.3,358.33 311.5,360 313.2,359.1 314.21,359.39 315.23,358.45 316.24,358.58 317.26,358.18 318.27,357.8 319.29,357.9 320.3,357.3 321.36,358.28 322.42,358.75 323.48,358.71 324.54,360.03 325.6,360 326.66,358.77 327.72,358.23 328.78,356.62 329.84,355.24 330.9,354.7 332.07,352.97 333.23,350.62 334.4,349.4 335.57,350.3 336.73,352.24 337.9,352.9 338.96,353.18 340.02,354.85 341.08,355.72 342.14,356.93 343.2,357.3 344.26,356.72 345.32,356.34 346.38,356.72 347.44,356.82 348.5,356.4 349.67,358.42 350.83,359.04 352,360.9 353.06,360.44 354.12,359.71 355.18,358.78 356.24,358.51 357.3,358.2 358.31,357.7 359.33,356.57 360.34,355.87 361.36,354.99 362.37,353.58 363.39,352.8 364.4,352 365.46,353.36 366.52,353.65 367.58,354.44 368.64,355.34 369.7,356.4 370.76,356.11 371.82,355.78 372.88,355.38 373.94,355.71 375,355.6 376.1,356.47 377.2,356.1 378.3,356.8 379.5,357.57 380.7,359.3 381.9,357.8 383.1,356 384.2,357.53 385.3,358.91 386.4,360.9 387.6,361.38 388.8,361.7 390.05,359.93 391.3,358.9 392.3,358.88 393.3,360.43 394.3,360.81 395.3,360.9 396.55,358.86 397.8,356 398.87,355.69 399.93,354.92 401,354.7 402.02,353.67 403.05,352.96 404.08,351.53 405.1,351.1" fill="none" stroke="#25259c" stroke-width="1.4" stroke-linejoin="round" stroke-linecap="round" />
<polyline points="301.5,386.4 302.95,386.1 304.4,385.5 305.57,386.33 306.73,386.74 307.9,387.3 308.96,387.56 310.02,388.6 311.08,387.81 312.14,389.22 313.2,389.1 314.23,388.8 315.27,389.44 316.3,389.33 317.33,388.79 318.37,389.49 319.4,389.1 320.43,388.25 321.47,388.5 322.5,387.1 323.53,387.29 324.57,385.72 325.6,385.5 326.72,385.12 327.83,384.73 328.95,383.03 330.07,382.47 331.18,381.89 332.3,381.7 333.57,382.34 334.83,384.04 336.1,384.7 337.16,384.97 338.22,384.93 339.28,385.67 340.34,385.73 341.4,386.4 342.41,387.28 343.43,386.65 344.44,387.23 345.46,388.32 346.47,388.13 347.49,388.17 348.5,389.1 349.5,389.29 350.5,389.59 351.5,389.66 352.5,390.38 353.5,390.37 354.5,391.04 355.5,390.8 356.51,391.03 357.53,390.83 358.54,389.91 359.56,389.88 360.57,390.26 361.59,390.18 362.6,390 363.77,388.25 364.93,387.2 366.1,385.5 367.3,385.7 368.5,385.89 369.7,386.4 370.76,387.13 371.82,388.43 372.88,389 373.94,389.2 375,390.2 376.1,391.7 377.2,392.87 378.3,394.2 379.5,393.76 380.7,393.4 381.9,394.03 383.1,393.4 384.33,394.19 385.55,395.16 386.77,394.69 388,395.9 389.02,396.35 390.05,397.7 391.08,399.49 392.1,399.9 393.3,398.46 394.5,397.5 395.6,398.13 396.7,398.8 397.8,399.6 399,398.2 400.2,396.04 401.4,395.21 402.6,393.4 403.85,395.03 405.1,395.9" fill="none" stroke="#cc30dc" stroke-width="1.4" stroke-linejoin="round" stroke-linecap="round" />
<text x="301.8" y="250.8" font-family="Liberation Sans, sans-serif" font-size="4.5" font-weight="normal" text-anchor="start" fill="#3a3a3a" stroke="#3a3a3a" stroke-width="0.16" textLength="17.6" lengthAdjust="spacingAndGlyphs" >1-1 (RE)</text>
<text x="330" y="243.8" font-family="Liberation Sans, sans-serif" font-size="4.5" font-weight="normal" text-anchor="start" fill="#3a3a3a" stroke="#3a3a3a" stroke-width="0.16" textLength="9" lengthAdjust="spacingAndGlyphs" >Peak</text>
<text x="313.2" y="266.7" font-family="Liberation Sans, sans-serif" font-size="4.5" font-weight="normal" text-anchor="start" fill="#3a3a3a" stroke="#3a3a3a" stroke-width="0.16" textLength="12.6" lengthAdjust="spacingAndGlyphs" >Trough</text>
<text x="301.8" y="285.6" font-family="Liberation Sans, sans-serif" font-size="4.5" font-weight="normal" text-anchor="start" fill="#3a3a3a" stroke="#3a3a3a" stroke-width="0.16" textLength="17.6" lengthAdjust="spacingAndGlyphs" >1-2 (RE)</text>
<text x="328.7" y="273.8" font-family="Liberation Sans, sans-serif" font-size="4.5" font-weight="normal" text-anchor="start" fill="#3a3a3a" stroke="#3a3a3a" stroke-width="0.16" textLength="9" lengthAdjust="spacingAndGlyphs" >Peak</text>
<text x="309.7" y="300.9" font-family="Liberation Sans, sans-serif" font-size="4.5" font-weight="normal" text-anchor="start" fill="#3a3a3a" stroke="#3a3a3a" stroke-width="0.16" textLength="12.6" lengthAdjust="spacingAndGlyphs" >Trough</text>
<text x="301.8" y="320" font-family="Liberation Sans, sans-serif" font-size="4.5" font-weight="normal" text-anchor="start" fill="#3a3a3a" stroke="#3a3a3a" stroke-width="0.16" textLength="17.6" lengthAdjust="spacingAndGlyphs" >1-3 (RE)</text>
<text x="331" y="310.8" font-family="Liberation Sans, sans-serif" font-size="4.5" font-weight="normal" text-anchor="start" fill="#3a3a3a" stroke="#3a3a3a" stroke-width="0.16" textLength="9" lengthAdjust="spacingAndGlyphs" >Peak</text>
<text x="309.7" y="331.5" font-family="Liberation Sans, sans-serif" font-size="4.5" font-weight="normal" text-anchor="start" fill="#3a3a3a" stroke="#3a3a3a" stroke-width="0.16" textLength="12.6" lengthAdjust="spacingAndGlyphs" >Trough</text>
<text x="301.8" y="354.4" font-family="Liberation Sans, sans-serif" font-size="4.5" font-weight="normal" text-anchor="start" fill="#3a3a3a" stroke="#3a3a3a" stroke-width="0.16" textLength="17.6" lengthAdjust="spacingAndGlyphs" >1-4 (RE)</text>
<text x="331.2" y="343.3" font-family="Liberation Sans, sans-serif" font-size="4.5" font-weight="normal" text-anchor="start" fill="#3a3a3a" stroke="#3a3a3a" stroke-width="0.16" textLength="9" lengthAdjust="spacingAndGlyphs" >Peak</text>
<text x="305.8" y="369.1" font-family="Liberation Sans, sans-serif" font-size="4.5" font-weight="normal" text-anchor="start" fill="#3a3a3a" stroke="#3a3a3a" stroke-width="0.16" textLength="12.6" lengthAdjust="spacingAndGlyphs" >Trough</text>
<text x="301.8" y="384.9" font-family="Liberation Sans, sans-serif" font-size="4.5" font-weight="normal" text-anchor="start" fill="#3a3a3a" stroke="#3a3a3a" stroke-width="0.16" textLength="17.6" lengthAdjust="spacingAndGlyphs" >1-5 (RE)</text>
<text x="328.2" y="374.7" font-family="Liberation Sans, sans-serif" font-size="4.5" font-weight="normal" text-anchor="start" fill="#3a3a3a" stroke="#3a3a3a" stroke-width="0.16" textLength="9" lengthAdjust="spacingAndGlyphs" >Peak</text>
<text x="313.2" y="399" font-family="Liberation Sans, sans-serif" font-size="4.5" font-weight="normal" text-anchor="start" fill="#3a3a3a" stroke="#3a3a3a" stroke-width="0.16" textLength="12.6" lengthAdjust="spacingAndGlyphs" >Trough</text>
<line x1="334.4" y1="245" x2="334.4" y2="252" stroke="#444" stroke-width="0.7" />
<line x1="319.4" y1="253" x2="319.4" y2="260" stroke="#444" stroke-width="0.7" />
<line x1="332.6" y1="276" x2="332.6" y2="283" stroke="#444" stroke-width="0.7" />
<line x1="315.9" y1="287" x2="315.9" y2="293.5" stroke="#444" stroke-width="0.7" />
<line x1="334.4" y1="312" x2="334.4" y2="320" stroke="#444" stroke-width="0.7" />
<line x1="316.7" y1="318" x2="316.7" y2="324.5" stroke="#444" stroke-width="0.7" />
<line x1="334.4" y1="344" x2="334.4" y2="351" stroke="#444" stroke-width="0.7" />
<line x1="313.2" y1="355.5" x2="313.2" y2="362.5" stroke="#444" stroke-width="0.7" />
<line x1="332.3" y1="376" x2="332.3" y2="384" stroke="#444" stroke-width="0.7" />
<line x1="319.4" y1="386" x2="319.4" y2="393" stroke="#444" stroke-width="0.7" />
<line x1="300.6" y1="390" x2="308" y2="390" stroke="#888" stroke-width="1" />
<line x1="300.6" y1="227.6" x2="300.6" y2="410.6" stroke="#1e1e1e" stroke-width="1.4" />
<line x1="298.4" y1="228" x2="300.6" y2="228" stroke="#1e1e1e" stroke-width="0.9" />
<line x1="299.9" y1="410.6" x2="564" y2="410.6" stroke="#1e1e1e" stroke-width="1.2" />
<line x1="298" y1="257.6" x2="300.6" y2="257.6" stroke="#1e1e1e" stroke-width="1" />
<line x1="298" y1="287.6" x2="300.6" y2="287.6" stroke="#1e1e1e" stroke-width="1" />
<line x1="298" y1="318" x2="300.6" y2="318" stroke="#1e1e1e" stroke-width="1" />
<line x1="298" y1="348.5" x2="300.6" y2="348.5" stroke="#1e1e1e" stroke-width="1" />
<line x1="298" y1="378.5" x2="300.6" y2="378.5" stroke="#1e1e1e" stroke-width="1" />
<line x1="354.2" y1="410.6" x2="354.2" y2="413.2" stroke="#1e1e1e" stroke-width="1" />
<line x1="406.5" y1="410.6" x2="406.5" y2="413.2" stroke="#1e1e1e" stroke-width="1" />
<line x1="459" y1="410.6" x2="459" y2="413.2" stroke="#1e1e1e" stroke-width="1" />
<line x1="511.4" y1="410.6" x2="511.4" y2="413.2" stroke="#1e1e1e" stroke-width="1" />
<line x1="564" y1="410.6" x2="564" y2="413.2" stroke="#1e1e1e" stroke-width="1" />
<line x1="288.1" y1="230.6" x2="292.1" y2="230.6" stroke="#444" stroke-width="0.75" />
<line x1="290.1" y1="228.6" x2="290.1" y2="232.6" stroke="#444" stroke-width="0.75" />
<path d="M295.9,228.8 l1.8,1.8 l-1.8,1.8 l-1.8,-1.8 Z" fill="#c8c8c8" stroke="#333" stroke-width="0.9"/>
<text x="302" y="232.2" font-family="Liberation Sans, sans-serif" font-size="4.8" font-weight="normal" text-anchor="start" fill="#333" stroke="#333" stroke-width="0.17" textLength="28.8" lengthAdjust="spacingAndGlyphs" >1-OD ERG [RE]</text>
<text x="302.2" y="419.8" font-family="Liberation Sans, sans-serif" font-size="6.2" font-weight="normal" text-anchor="start" fill="#000" stroke="#000" stroke-width="0.22" textLength="26" lengthAdjust="spacingAndGlyphs" >50ms/Div</text>
<text transform="translate(291.5,409.4) rotate(-90)" font-family="Liberation Sans, sans-serif" font-size="5" text-anchor="start" fill="#333" stroke="#333" stroke-width="0.12" textLength="13.9" lengthAdjust="spacingAndGlyphs">100µV</text>
<text transform="translate(297.3,409.4) rotate(-90)" font-family="Liberation Sans, sans-serif" font-size="5" text-anchor="start" fill="#333" stroke="#333" stroke-width="0.12" textLength="5.4" lengthAdjust="spacingAndGlyphs">Div</text>
<line x1="308.5" y1="420.4" x2="308.5" y2="603" stroke="#6458d4" stroke-width="1.2" />
<line x1="312.9" y1="420.4" x2="312.9" y2="603" stroke="#6e62da" stroke-width="1.6" />
<line x1="323.8" y1="432.6" x2="330" y2="432.6" stroke="#60d060" stroke-width="1" />
<line x1="322" y1="468.8" x2="331.2" y2="468.8" stroke="#e06a6a" stroke-width="1" />
<line x1="322" y1="492.6" x2="331.2" y2="492.6" stroke="#4848c0" stroke-width="1" />
<line x1="322" y1="500.5" x2="331.2" y2="500.5" stroke="#7ae6ee" stroke-width="1" />
<line x1="322" y1="522.6" x2="331.2" y2="522.6" stroke="#e070ec" stroke-width="1" />
<line x1="322" y1="542.4" x2="331.2" y2="542.4" stroke="#4848c0" stroke-width="1" />
<line x1="322" y1="572" x2="331.2" y2="572" stroke="#e070ec" stroke-width="1.1" />
<line x1="322.1" y1="420.6" x2="322.1" y2="450.3" stroke="#e06a6a" stroke-width="1" />
<line x1="331.1" y1="420.6" x2="331.1" y2="450.3" stroke="#e06a6a" stroke-width="1" />
<line x1="322.1" y1="450.3" x2="322.1" y2="492.6" stroke="#7ae6ee" stroke-width="1" />
<line x1="331.1" y1="450.3" x2="331.1" y2="492.6" stroke="#7ae6ee" stroke-width="1" />
<line x1="322.1" y1="492.6" x2="322.1" y2="542.4" stroke="#4848c0" stroke-width="1" />
<line x1="331.1" y1="492.6" x2="331.1" y2="542.4" stroke="#4848c0" stroke-width="1" />
<line x1="322.1" y1="542.4" x2="322.1" y2="572" stroke="#e070ec" stroke-width="1.1" />
<line x1="331.1" y1="542.4" x2="331.1" y2="572" stroke="#e070ec" stroke-width="1.1" />
<line x1="322.1" y1="421.2" x2="331.1" y2="421.2" stroke="#e06a6a" stroke-width="1" />
<polyline points="301.5,444.1 302.68,444.32 303.85,444.42 305.02,445.43 306.2,445.9 307.3,446.53 308.4,446.59 309.5,446.66 310.6,446.7 311.9,445.78 313.2,445 314.3,445.2 315.4,445.34 316.5,446.37 317.6,446.7 318.7,446.16 319.8,446.29 320.9,446.36 322,445.9 323.06,445.98 324.12,444.73 325.18,444.36 326.24,444.74 327.3,444.1 328.6,442.66 329.9,442.73 331.2,441.5 332.23,441.57 333.25,440.83 334.27,440.41 335.3,440.6 336.4,441.05 337.5,441.37 338.6,442.9 339.7,443.2 340.87,442.45 342.03,442.22 343.2,441.5 344.3,442.88 345.4,444.32 346.5,446.12 347.6,447.6 348.7,447.17 349.8,446.76 350.9,445.93 352,445 353.17,445.2 354.33,446.27 355.5,446.7 356.56,446.27 357.62,445.78 358.68,444.48 359.74,443.67 360.8,443.2 361.86,442.49 362.92,442.56 363.98,442.69 365.04,442.18 366.1,442.3 367.16,442.69 368.22,444.16 369.28,444.15 370.34,445.46 371.4,445.9 372.6,446.24 373.8,447.51 375,448.5 376.1,449.19 377.2,448.66 378.3,449.1 379.5,447.8 380.7,447 381.9,447.78 383.1,447.8 384.35,449.03 385.6,449.1 386.8,448.64 388,447 389.2,445.66 390.4,445.3 391.65,445.2 392.9,446.1 393.97,445.88 395.03,444.52 396.1,444.5 397.35,444.71 398.6,444.5 399.8,440.95 401,436.4 402.6,434.8 403.85,436.23 405.1,438" fill="none" stroke="#45cf45" stroke-width="1.4" stroke-linejoin="round" stroke-linecap="round" />
<polyline points="301.5,475 302.77,477.04 304.03,477.41 305.3,479.4 306.4,480.41 307.5,480.77 308.6,481.28 309.7,482 310.7,482.46 311.7,482.28 312.7,481.41 313.7,482.08 314.7,480.89 315.7,481.18 316.7,481.1 317.76,481.58 318.82,480.94 319.88,480.73 320.94,480.83 322,481.1 323.06,481.22 324.12,480.18 325.18,480.2 326.24,480.01 327.3,480.3 328.4,479.02 329.5,477.61 330.6,475.92 331.7,474.1 333.05,474.66 334.4,475 335.7,474.03 337,473.2 338.1,473.78 339.2,475.11 340.3,475.91 341.4,477.6 342.46,478.62 343.52,479.33 344.58,479.39 345.64,480.1 346.7,481.1 347.71,480.48 348.73,479.56 349.74,480.01 350.76,478.5 351.77,478.57 352.79,478.59 353.8,477.6 354.86,478.28 355.92,478.27 356.98,479.69 358.04,480.2 359.1,480.3 360.27,479.44 361.43,478.93 362.6,477.6 363.7,475.46 364.8,474.86 365.9,473.47 367,471.4 368.03,472.15 369.07,472.34 370.1,472.92 371.13,473.27 372.17,474.27 373.2,475 374.22,476.28 375.24,476.74 376.26,477.83 377.28,479.46 378.3,480.3 379.5,481.8 380.7,482.7 381.77,481.91 382.83,481.77 383.9,481.1 385.15,482.71 386.4,483.5 387.4,483.78 388.4,483.32 389.4,482.56 390.4,482.7 391.5,483.16 392.6,483.28 393.7,483.5 394.8,483.46 395.9,484.19 397,483.9 398.07,481.09 399.13,477.25 400.2,474.6 401.4,474.9 402.6,476.2 403.85,475.85 405.1,475.4" fill="none" stroke="#c83434" stroke-width="1.4" stroke-linejoin="round" stroke-linecap="round" />
<polyline points="301.5,512.9 302.57,512.47 303.63,513.13 304.7,513.15 305.77,513.39 306.83,514.16 307.9,513.8 308.96,513.87 310.02,513.76 311.08,514.03 312.14,513.93 313.2,514.7 314.37,515 315.53,514.7 316.7,514.7 317.76,514.41 318.82,514.37 319.88,514.41 320.94,514.45 322,513.8 323.11,513.4 324.23,513.98 325.34,512.98 326.45,513.77 327.56,513.44 328.67,512.55 329.79,512.49 330.9,512.9 332.07,511.98 333.23,512.02 334.4,511.2 335.57,512.31 336.73,513.53 337.9,514.7 338.91,515.08 339.93,514.64 340.94,515.88 341.96,516.14 342.97,516.31 343.99,516.18 345,516.5 346.1,517.24 347.2,517.4 348.3,517.72 349.4,518.81 350.5,518.35 351.6,518.72 352.7,519.53 353.8,520 354.86,519.31 355.92,519.13 356.98,519.28 358.04,519.74 359.1,519.1 360.2,518.18 361.3,516.49 362.4,516.21 363.5,514.7 364.67,513.17 365.83,510.99 367,508.5 368.1,509.22 369.2,509.52 370.3,510.71 371.4,511.2 372.6,511.58 373.8,513.45 375,513.8 376.23,514.02 377.45,514.27 378.67,514 379.9,513.6 381.12,514.16 382.35,513.97 383.57,513.82 384.8,514.1 385.87,514.38 386.93,515.84 388,516.1 389.1,515.02 390.2,514.93 391.3,513.6 392.37,514.58 393.43,515.14 394.5,515.2 395.6,514.88 396.7,513.28 397.8,512.8 398.87,512.75 399.93,512.6 401,512 402.02,511.47 403.05,511.95 404.08,511.41 405.1,511.2" fill="none" stroke="#50dede" stroke-width="1.4" stroke-linejoin="round" stroke-linecap="round" />
<polyline points="301.5,546.4 302.68,547.14 303.85,548.93 305.02,550.85 306.2,551.7 307.3,553.09 308.4,553.76 309.5,554.58 310.6,556.1 312.3,557 313.33,556.12 314.37,556.7 315.4,556.28 316.43,555.11 317.47,554.31 318.5,554.4 319.56,553.5 320.62,554.07 321.68,553.16 322.74,553.05 323.8,552.6 324.97,553.24 326.13,554.84 327.3,555.3 328.5,553.01 329.7,551.67 330.9,550 331.94,548.61 332.98,547.42 334.02,546.59 335.06,545.56 336.1,544.7 337.11,545.5 338.13,544.91 339.14,545.19 340.16,545.17 341.17,545.76 342.19,546.45 343.2,546.4 344.21,546.22 345.23,546.32 346.24,546.2 347.26,547.35 348.27,546.82 349.29,547.18 350.3,547.3 351.3,547.21 352.3,547.3 353.3,546.61 354.3,545.97 355.3,545.9 356.3,545.82 357.3,545.9 358.36,544.94 359.42,544.22 360.48,543.79 361.54,543.23 362.6,542.9 363.7,541.37 364.8,540.6 365.9,539.05 367,537.6 368.1,539.58 369.2,541.23 370.3,542.22 371.4,543.8 372.46,544.23 373.52,545.84 374.58,546.42 375.64,546.78 376.7,548.2 378.3,548.3 379.37,549.43 380.43,551.19 381.5,553.2 382.7,553.6 383.9,553.7 385,555.18 386.1,555.5 387.2,556.5 388.27,557.35 389.33,557.65 390.4,558.6 391.42,558.81 392.45,558.71 393.48,558.35 394.5,558.9 395.75,557.42 397,554.8 398.2,551.39 399.4,549.1 401.3,546.7 402.4,548.34 403.5,550 405.1,553.2" fill="none" stroke="#25259c" stroke-width="1.4" stroke-linejoin="round" stroke-linecap="round" />
<polyline points="301.5,579.1 302.6,579.58 303.7,580.38 304.8,581.19 305.9,581.47 307,582.6 308.12,582.62 309.25,582.85 310.38,582.8 311.5,583.5 312.8,585.56 314.1,587 315.2,586.35 316.3,585.84 317.4,584.63 318.5,583.5 319.67,584.4 320.83,586.18 322,587 323.06,586.02 324.12,585.55 325.18,584.67 326.24,583.87 327.3,582.6 328.3,580.94 329.3,579.28 330.3,577.47 331.3,576.75 332.3,574.7 333.57,577.29 334.83,578.29 336.1,580.8 337.16,582.18 338.22,583.78 339.28,585.52 340.34,587.14 341.4,588.8 342.43,589.92 343.47,590.93 344.5,591.8 345.53,592.82 346.57,592.82 347.6,594.1 348.7,593.73 349.8,593.23 350.9,591.83 352,591.4 353.01,591.2 354.03,591.32 355.04,591.12 356.06,590.81 357.07,590.92 358.09,590.94 359.1,591.4 360.2,590.39 361.3,589.86 362.4,588.26 363.5,587.9 364.5,585.32 365.5,582.98 366.5,580.8 367.57,582.21 368.63,582.64 369.7,584.4 370.7,584.65 371.7,585.09 372.7,584.92 373.7,584.49 374.7,584.51 375.7,584.62 376.7,585.2 377.77,585.33 378.83,584.87 379.9,585.4 380.97,585.94 382.03,587.12 383.1,587.8 384.2,587.36 385.3,586.32 386.4,586.2 387.6,587.27 388.8,588.2 389.9,588.37 391,588.17 392.1,589 393.17,588.02 394.23,587.57 395.3,586.5 396.55,585.21 397.8,583.3 399,580.59 400.2,577.6 401.4,576.89 402.6,576 403.85,575.97 405.1,575.2" fill="none" stroke="#cc30dc" stroke-width="1.4" stroke-linejoin="round" stroke-linecap="round" />
<text x="301.8" y="442" font-family="Liberation Sans, sans-serif" font-size="4.5" font-weight="normal" text-anchor="start" fill="#3a3a3a" stroke="#3a3a3a" stroke-width="0.16" textLength="17.6" lengthAdjust="spacingAndGlyphs" >2-1 (LE)</text>
<text x="331" y="434.1" font-family="Liberation Sans, sans-serif" font-size="4.5" font-weight="normal" text-anchor="start" fill="#3a3a3a" stroke="#3a3a3a" stroke-width="0.16" textLength="9" lengthAdjust="spacingAndGlyphs" >Peak</text>
<text x="311" y="457" font-family="Liberation Sans, sans-serif" font-size="4.5" font-weight="normal" text-anchor="start" fill="#3a3a3a" stroke="#3a3a3a" stroke-width="0.16" textLength="12.6" lengthAdjust="spacingAndGlyphs" >Trough</text>
<text x="301.8" y="476.5" font-family="Liberation Sans, sans-serif" font-size="4.5" font-weight="normal" text-anchor="start" fill="#3a3a3a" stroke="#3a3a3a" stroke-width="0.16" textLength="17.6" lengthAdjust="spacingAndGlyphs" >2-2 (LE)</text>
<text x="332" y="468" font-family="Liberation Sans, sans-serif" font-size="4.5" font-weight="normal" text-anchor="start" fill="#3a3a3a" stroke="#3a3a3a" stroke-width="0.16" textLength="9" lengthAdjust="spacingAndGlyphs" >Peak</text>
<text x="310.5" y="492.5" font-family="Liberation Sans, sans-serif" font-size="4.5" font-weight="normal" text-anchor="start" fill="#3a3a3a" stroke="#3a3a3a" stroke-width="0.16" textLength="12.6" lengthAdjust="spacingAndGlyphs" >Trough</text>
<text x="301.8" y="514.4" font-family="Liberation Sans, sans-serif" font-size="4.5" font-weight="normal" text-anchor="start" fill="#3a3a3a" stroke="#3a3a3a" stroke-width="0.16" textLength="17.6" lengthAdjust="spacingAndGlyphs" >2-3 (LE)</text>
<text x="331" y="505.3" font-family="Liberation Sans, sans-serif" font-size="4.5" font-weight="normal" text-anchor="start" fill="#3a3a3a" stroke="#3a3a3a" stroke-width="0.16" textLength="9" lengthAdjust="spacingAndGlyphs" >Peak</text>
<text x="310.6" y="523.8" font-family="Liberation Sans, sans-serif" font-size="4.5" font-weight="normal" text-anchor="start" fill="#3a3a3a" stroke="#3a3a3a" stroke-width="0.16" textLength="12.6" lengthAdjust="spacingAndGlyphs" >Trough</text>
<text x="301.8" y="548.8" font-family="Liberation Sans, sans-serif" font-size="4.5" font-weight="normal" text-anchor="start" fill="#3a3a3a" stroke="#3a3a3a" stroke-width="0.16" textLength="17.6" lengthAdjust="spacingAndGlyphs" >2-4 (LE)</text>
<text x="330.9" y="537.4" font-family="Liberation Sans, sans-serif" font-size="4.5" font-weight="normal" text-anchor="start" fill="#3a3a3a" stroke="#3a3a3a" stroke-width="0.16" textLength="9" lengthAdjust="spacingAndGlyphs" >Peak</text>
<text x="305.3" y="565.6" font-family="Liberation Sans, sans-serif" font-size="4.5" font-weight="normal" text-anchor="start" fill="#3a3a3a" stroke="#3a3a3a" stroke-width="0.16" textLength="12.6" lengthAdjust="spacingAndGlyphs" >Trough</text>
<text x="301.8" y="580.6" font-family="Liberation Sans, sans-serif" font-size="4.5" font-weight="normal" text-anchor="start" fill="#3a3a3a" stroke="#3a3a3a" stroke-width="0.16" textLength="17.6" lengthAdjust="spacingAndGlyphs" >2-5 (LE)</text>
<text x="328.2" y="568.6" font-family="Liberation Sans, sans-serif" font-size="4.5" font-weight="normal" text-anchor="start" fill="#3a3a3a" stroke="#3a3a3a" stroke-width="0.16" textLength="9" lengthAdjust="spacingAndGlyphs" >Peak</text>
<text x="307.9" y="595" font-family="Liberation Sans, sans-serif" font-size="4.5" font-weight="normal" text-anchor="start" fill="#3a3a3a" stroke="#3a3a3a" stroke-width="0.16" textLength="12.6" lengthAdjust="spacingAndGlyphs" >Trough</text>
<line x1="335.3" y1="437" x2="335.3" y2="444" stroke="#444" stroke-width="0.7" />
<line x1="317.6" y1="444" x2="317.6" y2="451" stroke="#444" stroke-width="0.7" />
<line x1="337" y1="470" x2="337" y2="477" stroke="#444" stroke-width="0.7" />
<line x1="316.7" y1="478" x2="316.7" y2="485" stroke="#444" stroke-width="0.7" />
<line x1="334.4" y1="508" x2="334.4" y2="515" stroke="#444" stroke-width="0.7" />
<line x1="316.7" y1="512" x2="316.7" y2="519" stroke="#444" stroke-width="0.7" />
<line x1="336.1" y1="541" x2="336.1" y2="548" stroke="#444" stroke-width="0.7" />
<line x1="312.3" y1="554" x2="312.3" y2="561" stroke="#444" stroke-width="0.7" />
<line x1="332.3" y1="571" x2="332.3" y2="578" stroke="#444" stroke-width="0.7" />
<line x1="314.1" y1="584" x2="314.1" y2="591" stroke="#444" stroke-width="0.7" />
<line x1="300.6" y1="585.2" x2="308" y2="585.2" stroke="#888" stroke-width="1" />
<line x1="300.6" y1="420.4" x2="300.6" y2="603" stroke="#1e1e1e" stroke-width="1.4" />
<line x1="298.4" y1="420.8" x2="300.6" y2="420.8" stroke="#1e1e1e" stroke-width="0.9" />
<line x1="299.9" y1="603" x2="564" y2="603" stroke="#1e1e1e" stroke-width="1.2" />
<line x1="298" y1="450.3" x2="300.6" y2="450.3" stroke="#1e1e1e" stroke-width="1" />
<line x1="298" y1="480.3" x2="300.6" y2="480.3" stroke="#1e1e1e" stroke-width="1" />
<line x1="298" y1="510.6" x2="300.6" y2="510.6" stroke="#1e1e1e" stroke-width="1" />
<line x1="298" y1="541.7" x2="300.6" y2="541.7" stroke="#1e1e1e" stroke-width="1" />
<line x1="298" y1="571.1" x2="300.6" y2="571.1" stroke="#1e1e1e" stroke-width="1" />
<line x1="354.2" y1="603" x2="354.2" y2="605.6" stroke="#1e1e1e" stroke-width="1" />
<line x1="406.5" y1="603" x2="406.5" y2="605.6" stroke="#1e1e1e" stroke-width="1" />
<line x1="459" y1="603" x2="459" y2="605.6" stroke="#1e1e1e" stroke-width="1" />
<line x1="511.4" y1="603" x2="511.4" y2="605.6" stroke="#1e1e1e" stroke-width="1" />
<line x1="564" y1="603" x2="564" y2="605.6" stroke="#1e1e1e" stroke-width="1" />
<line x1="288.1" y1="423.4" x2="292.1" y2="423.4" stroke="#444" stroke-width="0.75" />
<line x1="290.1" y1="421.4" x2="290.1" y2="425.4" stroke="#444" stroke-width="0.75" />
<path d="M295.9,421.6 l1.8,1.8 l-1.8,1.8 l-1.8,-1.8 Z" fill="#c8c8c8" stroke="#333" stroke-width="0.9"/>
<text x="302" y="425" font-family="Liberation Sans, sans-serif" font-size="4.8" font-weight="normal" text-anchor="start" fill="#333" stroke="#333" stroke-width="0.17" textLength="28.8" lengthAdjust="spacingAndGlyphs" >2-OS ERG [LE]</text>
<text x="301.6" y="611.6" font-family="Liberation Sans, sans-serif" font-size="6.2" font-weight="normal" text-anchor="start" fill="#000" stroke="#000" stroke-width="0.22" textLength="26" lengthAdjust="spacingAndGlyphs" >50ms/Div</text>
<text transform="translate(291.5,601.2) rotate(-90)" font-family="Liberation Sans, sans-serif" font-size="5" text-anchor="start" fill="#333" stroke="#333" stroke-width="0.12" textLength="13.9" lengthAdjust="spacingAndGlyphs">100µV</text>
<text transform="translate(297.3,601.2) rotate(-90)" font-family="Liberation Sans, sans-serif" font-size="5" text-anchor="start" fill="#333" stroke="#333" stroke-width="0.12" textLength="5.4" lengthAdjust="spacingAndGlyphs">Div</text>
</svg></body></html>
